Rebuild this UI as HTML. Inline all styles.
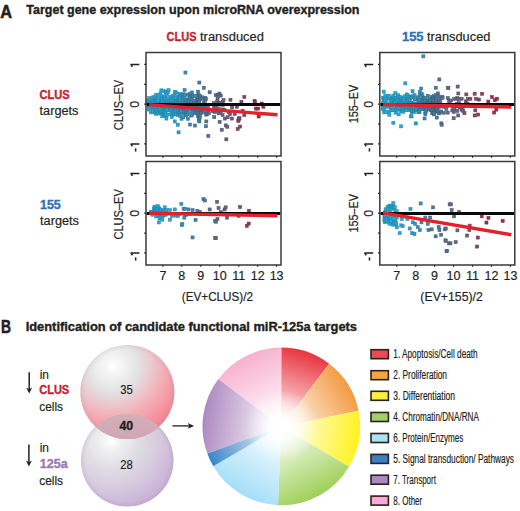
<!DOCTYPE html>
<html><head><meta charset="utf-8"><style>
html,body{margin:0;padding:0;background:#fff;width:520px;height:511px;overflow:hidden}
text{font-family:"Liberation Sans", sans-serif}
</style></head><body>
<svg width="520" height="511" viewBox="0 0 520 511" style="display:block;font-family:'Liberation Sans', sans-serif">
<rect width="520" height="511" fill="#fff"/>
<text x="0.30" y="17.60" font-size="17.5" fill="#231f20" font-weight="bold" stroke="#231f20" stroke-width="0.35" textLength="11.80" lengthAdjust="spacingAndGlyphs" style="stroke-width:0.55">A</text>
<text x="26.30" y="13.80" font-size="12" fill="#231f20" font-weight="bold" stroke="#231f20" stroke-width="0.35" textLength="333.20" lengthAdjust="spacingAndGlyphs">Target gene expression upon microRNA overexpression</text>
<text x="166.50" y="40.80" font-size="13" fill="#c81e32" font-weight="bold" stroke="#c81e32" stroke-width="0.35" textLength="30.00" lengthAdjust="spacingAndGlyphs">CLUS</text>
<text x="200.00" y="40.80" font-size="12.5" fill="#231f20" stroke="#231f20" stroke-width="0.18" textLength="63.90" lengthAdjust="spacingAndGlyphs">transduced</text>
<text x="402.00" y="40.80" font-size="13" fill="#2b72b8" font-weight="bold" stroke="#2b72b8" stroke-width="0.35" textLength="21.50" lengthAdjust="spacingAndGlyphs">155</text>
<text x="427.00" y="40.80" font-size="12.5" fill="#231f20" stroke="#231f20" stroke-width="0.18" textLength="63.40" lengthAdjust="spacingAndGlyphs">transduced</text>
<text x="39.50" y="98.80" font-size="12" fill="#c81e32" font-weight="bold" stroke="#c81e32" stroke-width="0.35" textLength="30.20" lengthAdjust="spacingAndGlyphs">CLUS</text>
<text x="39.50" y="115.00" font-size="12.5" fill="#231f20" stroke="#231f20" stroke-width="0.18" textLength="39.00" lengthAdjust="spacingAndGlyphs">targets</text>
<text x="40.00" y="208.90" font-size="12" fill="#2b72b8" font-weight="bold" stroke="#2b72b8" stroke-width="0.35" textLength="20.80" lengthAdjust="spacingAndGlyphs">155</text>
<text x="40.00" y="225.00" font-size="12.5" fill="#231f20" stroke="#231f20" stroke-width="0.18" textLength="39.00" lengthAdjust="spacingAndGlyphs">targets</text>
<rect x="146.7" y="101.9" width="3.1" height="3.1" fill="#28acd8" stroke="#2089ac" stroke-width="0.5"/>
<rect x="146.8" y="99.9" width="3.1" height="3.1" fill="#28acd8" stroke="#2089ac" stroke-width="0.5"/>
<rect x="146.9" y="99.2" width="3.1" height="3.1" fill="#28acd8" stroke="#2089ac" stroke-width="0.5"/>
<rect x="147.0" y="108.0" width="3.1" height="3.1" fill="#28acd8" stroke="#2089ac" stroke-width="0.5"/>
<rect x="147.1" y="98.5" width="3.1" height="3.1" fill="#28acd8" stroke="#2089ac" stroke-width="0.5"/>
<rect x="147.2" y="103.9" width="3.1" height="3.1" fill="#28acd8" stroke="#2089ac" stroke-width="0.5"/>
<rect x="147.5" y="103.3" width="3.1" height="3.1" fill="#28acd8" stroke="#2089ac" stroke-width="0.5"/>
<rect x="147.6" y="105.8" width="3.1" height="3.1" fill="#28acd8" stroke="#2089ac" stroke-width="0.5"/>
<rect x="147.7" y="96.6" width="3.1" height="3.1" fill="#28acd8" stroke="#2089ac" stroke-width="0.5"/>
<rect x="147.8" y="104.3" width="3.1" height="3.1" fill="#28acd8" stroke="#2089ac" stroke-width="0.5"/>
<rect x="147.9" y="103.6" width="3.1" height="3.1" fill="#28acd8" stroke="#2089ac" stroke-width="0.5"/>
<rect x="147.9" y="98.3" width="3.1" height="3.1" fill="#28acd8" stroke="#2089ac" stroke-width="0.5"/>
<rect x="148.1" y="103.8" width="3.1" height="3.1" fill="#28abd7" stroke="#2088ac" stroke-width="0.5"/>
<rect x="148.2" y="101.4" width="3.1" height="3.1" fill="#28abd7" stroke="#2088ac" stroke-width="0.5"/>
<rect x="148.4" y="98.9" width="3.1" height="3.1" fill="#28abd7" stroke="#2088ac" stroke-width="0.5"/>
<rect x="148.7" y="102.9" width="3.1" height="3.1" fill="#28abd7" stroke="#2088ac" stroke-width="0.5"/>
<rect x="148.8" y="105.5" width="3.1" height="3.1" fill="#28abd7" stroke="#2088ac" stroke-width="0.5"/>
<rect x="149.0" y="106.6" width="3.1" height="3.1" fill="#28abd7" stroke="#2088ac" stroke-width="0.5"/>
<rect x="149.3" y="110.8" width="3.1" height="3.1" fill="#28abd7" stroke="#2088ac" stroke-width="0.5"/>
<rect x="149.4" y="100.4" width="3.1" height="3.1" fill="#28abd7" stroke="#2088ac" stroke-width="0.5"/>
<rect x="149.5" y="102.8" width="3.1" height="3.1" fill="#28abd7" stroke="#2088ac" stroke-width="0.5"/>
<rect x="149.6" y="101.6" width="3.1" height="3.1" fill="#28abd7" stroke="#2088ac" stroke-width="0.5"/>
<rect x="149.8" y="100.8" width="3.1" height="3.1" fill="#28abd7" stroke="#2088ac" stroke-width="0.5"/>
<rect x="149.8" y="103.4" width="3.1" height="3.1" fill="#28abd7" stroke="#2088ac" stroke-width="0.5"/>
<rect x="149.8" y="103.6" width="3.1" height="3.1" fill="#28abd7" stroke="#2088ac" stroke-width="0.5"/>
<rect x="149.8" y="104.2" width="3.1" height="3.1" fill="#28abd7" stroke="#2088ac" stroke-width="0.5"/>
<rect x="150.1" y="101.1" width="3.1" height="3.1" fill="#28abd7" stroke="#2088ac" stroke-width="0.5"/>
<rect x="150.1" y="102.5" width="3.1" height="3.1" fill="#28abd7" stroke="#2088ac" stroke-width="0.5"/>
<rect x="150.2" y="102.5" width="3.1" height="3.1" fill="#28abd7" stroke="#2088ac" stroke-width="0.5"/>
<rect x="150.3" y="106.1" width="3.1" height="3.1" fill="#28abd7" stroke="#2088ac" stroke-width="0.5"/>
<rect x="150.4" y="101.0" width="3.1" height="3.1" fill="#28abd7" stroke="#2088ac" stroke-width="0.5"/>
<rect x="150.5" y="104.3" width="3.1" height="3.1" fill="#28abd7" stroke="#2088ac" stroke-width="0.5"/>
<rect x="150.6" y="98.8" width="3.1" height="3.1" fill="#28abd7" stroke="#2088ac" stroke-width="0.5"/>
<rect x="150.7" y="102.3" width="3.1" height="3.1" fill="#28abd7" stroke="#2088ac" stroke-width="0.5"/>
<rect x="150.8" y="104.5" width="3.1" height="3.1" fill="#28abd7" stroke="#2088ac" stroke-width="0.5"/>
<rect x="151.0" y="97.3" width="3.1" height="3.1" fill="#28abd7" stroke="#2088ac" stroke-width="0.5"/>
<rect x="151.1" y="95.9" width="3.1" height="3.1" fill="#28abd7" stroke="#2088ac" stroke-width="0.5"/>
<rect x="151.1" y="104.8" width="3.1" height="3.1" fill="#28abd7" stroke="#2088ac" stroke-width="0.5"/>
<rect x="151.2" y="103.2" width="3.1" height="3.1" fill="#28abd7" stroke="#2088ac" stroke-width="0.5"/>
<rect x="151.2" y="108.9" width="3.1" height="3.1" fill="#28aad7" stroke="#2088ac" stroke-width="0.5"/>
<rect x="151.5" y="108.2" width="3.1" height="3.1" fill="#28aad7" stroke="#2088ac" stroke-width="0.5"/>
<rect x="151.6" y="110.7" width="3.1" height="3.1" fill="#28aad7" stroke="#2088ac" stroke-width="0.5"/>
<rect x="151.9" y="100.1" width="3.1" height="3.1" fill="#28aad7" stroke="#2088ac" stroke-width="0.5"/>
<rect x="152.0" y="99.2" width="3.1" height="3.1" fill="#28aad7" stroke="#2088ac" stroke-width="0.5"/>
<rect x="152.0" y="110.0" width="3.1" height="3.1" fill="#28aad7" stroke="#2088ac" stroke-width="0.5"/>
<rect x="152.1" y="102.0" width="3.1" height="3.1" fill="#28aad7" stroke="#2088ac" stroke-width="0.5"/>
<rect x="152.3" y="100.6" width="3.1" height="3.1" fill="#28aad6" stroke="#2088ab" stroke-width="0.5"/>
<rect x="152.6" y="104.2" width="3.1" height="3.1" fill="#28aad6" stroke="#2088ab" stroke-width="0.5"/>
<rect x="152.8" y="95.2" width="3.1" height="3.1" fill="#28aad6" stroke="#2088ab" stroke-width="0.5"/>
<rect x="153.0" y="105.6" width="3.1" height="3.1" fill="#28aad6" stroke="#2088ab" stroke-width="0.5"/>
<rect x="153.0" y="105.4" width="3.1" height="3.1" fill="#28aad6" stroke="#2088ab" stroke-width="0.5"/>
<rect x="153.4" y="107.2" width="3.1" height="3.1" fill="#28aad6" stroke="#2088ab" stroke-width="0.5"/>
<rect x="153.5" y="101.0" width="3.1" height="3.1" fill="#28aad6" stroke="#2088ab" stroke-width="0.5"/>
<rect x="153.5" y="100.8" width="3.1" height="3.1" fill="#28aad6" stroke="#2088ab" stroke-width="0.5"/>
<rect x="153.5" y="104.8" width="3.1" height="3.1" fill="#28aad6" stroke="#2088ab" stroke-width="0.5"/>
<rect x="153.5" y="103.5" width="3.1" height="3.1" fill="#28aad6" stroke="#2088ab" stroke-width="0.5"/>
<rect x="153.6" y="97.1" width="3.1" height="3.1" fill="#28aad6" stroke="#2088ab" stroke-width="0.5"/>
<rect x="153.6" y="96.9" width="3.1" height="3.1" fill="#28aad6" stroke="#2088ab" stroke-width="0.5"/>
<rect x="153.6" y="104.6" width="3.1" height="3.1" fill="#28aad6" stroke="#2088ab" stroke-width="0.5"/>
<rect x="153.6" y="104.8" width="3.1" height="3.1" fill="#28aad6" stroke="#2088ab" stroke-width="0.5"/>
<rect x="153.7" y="103.2" width="3.1" height="3.1" fill="#28aad6" stroke="#2088ab" stroke-width="0.5"/>
<rect x="153.9" y="111.5" width="3.1" height="3.1" fill="#28aad6" stroke="#2088ab" stroke-width="0.5"/>
<rect x="154.0" y="105.3" width="3.1" height="3.1" fill="#28aad6" stroke="#2088ab" stroke-width="0.5"/>
<rect x="154.0" y="110.8" width="3.1" height="3.1" fill="#28aad6" stroke="#2088ab" stroke-width="0.5"/>
<rect x="154.1" y="102.5" width="3.1" height="3.1" fill="#28aad6" stroke="#2088ab" stroke-width="0.5"/>
<rect x="154.3" y="110.8" width="3.1" height="3.1" fill="#29a9d6" stroke="#2087ab" stroke-width="0.5"/>
<rect x="154.3" y="108.4" width="3.1" height="3.1" fill="#29a9d6" stroke="#2087ab" stroke-width="0.5"/>
<rect x="154.3" y="112.2" width="3.1" height="3.1" fill="#29a9d6" stroke="#2087ab" stroke-width="0.5"/>
<rect x="154.4" y="98.5" width="3.1" height="3.1" fill="#29a9d6" stroke="#2087ab" stroke-width="0.5"/>
<rect x="154.4" y="93.5" width="3.1" height="3.1" fill="#29a9d6" stroke="#2087ab" stroke-width="0.5"/>
<rect x="154.5" y="110.5" width="3.1" height="3.1" fill="#29a9d6" stroke="#2087ab" stroke-width="0.5"/>
<rect x="154.6" y="99.3" width="3.1" height="3.1" fill="#29a9d6" stroke="#2087ab" stroke-width="0.5"/>
<rect x="154.7" y="102.6" width="3.1" height="3.1" fill="#29a9d6" stroke="#2087ab" stroke-width="0.5"/>
<rect x="154.8" y="102.8" width="3.1" height="3.1" fill="#29a9d6" stroke="#2087ab" stroke-width="0.5"/>
<rect x="154.9" y="99.6" width="3.1" height="3.1" fill="#29a9d6" stroke="#2087ab" stroke-width="0.5"/>
<rect x="154.9" y="100.2" width="3.1" height="3.1" fill="#29a9d6" stroke="#2087ab" stroke-width="0.5"/>
<rect x="155.0" y="101.5" width="3.1" height="3.1" fill="#29a9d6" stroke="#2087ab" stroke-width="0.5"/>
<rect x="155.2" y="104.3" width="3.1" height="3.1" fill="#29a9d6" stroke="#2087ab" stroke-width="0.5"/>
<rect x="155.3" y="108.5" width="3.1" height="3.1" fill="#29a9d6" stroke="#2087ab" stroke-width="0.5"/>
<rect x="155.4" y="109.9" width="3.1" height="3.1" fill="#29a9d6" stroke="#2087ab" stroke-width="0.5"/>
<rect x="155.6" y="105.6" width="3.1" height="3.1" fill="#29a9d6" stroke="#2087ab" stroke-width="0.5"/>
<rect x="155.7" y="99.6" width="3.1" height="3.1" fill="#29a9d6" stroke="#2087ab" stroke-width="0.5"/>
<rect x="155.7" y="97.7" width="3.1" height="3.1" fill="#29a9d6" stroke="#2087ab" stroke-width="0.5"/>
<rect x="155.8" y="102.9" width="3.1" height="3.1" fill="#29a9d6" stroke="#2087ab" stroke-width="0.5"/>
<rect x="156.2" y="93.4" width="3.1" height="3.1" fill="#29a9d6" stroke="#2087ab" stroke-width="0.5"/>
<rect x="156.2" y="102.4" width="3.1" height="3.1" fill="#29a9d6" stroke="#2087ab" stroke-width="0.5"/>
<rect x="156.2" y="100.7" width="3.1" height="3.1" fill="#29a9d6" stroke="#2087ab" stroke-width="0.5"/>
<rect x="156.3" y="107.2" width="3.1" height="3.1" fill="#29a9d6" stroke="#2087ab" stroke-width="0.5"/>
<rect x="156.6" y="103.2" width="3.1" height="3.1" fill="#29a9d5" stroke="#2087aa" stroke-width="0.5"/>
<rect x="156.7" y="111.3" width="3.1" height="3.1" fill="#29a9d5" stroke="#2087aa" stroke-width="0.5"/>
<rect x="156.7" y="98.4" width="3.1" height="3.1" fill="#29a9d5" stroke="#2087aa" stroke-width="0.5"/>
<rect x="156.8" y="102.5" width="3.1" height="3.1" fill="#29a9d5" stroke="#2087aa" stroke-width="0.5"/>
<rect x="157.2" y="104.8" width="3.1" height="3.1" fill="#29a9d5" stroke="#2087aa" stroke-width="0.5"/>
<rect x="157.3" y="110.0" width="3.1" height="3.1" fill="#29a9d5" stroke="#2087aa" stroke-width="0.5"/>
<rect x="157.3" y="96.4" width="3.1" height="3.1" fill="#29a9d5" stroke="#2087aa" stroke-width="0.5"/>
<rect x="157.5" y="112.0" width="3.1" height="3.1" fill="#29a8d5" stroke="#2086aa" stroke-width="0.5"/>
<rect x="157.5" y="106.5" width="3.1" height="3.1" fill="#29a8d5" stroke="#2086aa" stroke-width="0.5"/>
<rect x="158.0" y="102.6" width="3.1" height="3.1" fill="#29a8d5" stroke="#2086aa" stroke-width="0.5"/>
<rect x="158.0" y="105.9" width="3.1" height="3.1" fill="#29a8d5" stroke="#2086aa" stroke-width="0.5"/>
<rect x="158.0" y="103.7" width="3.1" height="3.1" fill="#29a8d5" stroke="#2086aa" stroke-width="0.5"/>
<rect x="158.2" y="107.4" width="3.1" height="3.1" fill="#29a8d5" stroke="#2086aa" stroke-width="0.5"/>
<rect x="158.2" y="105.7" width="3.1" height="3.1" fill="#29a8d5" stroke="#2086aa" stroke-width="0.5"/>
<rect x="158.4" y="107.6" width="3.1" height="3.1" fill="#29a8d5" stroke="#2086aa" stroke-width="0.5"/>
<rect x="158.4" y="104.5" width="3.1" height="3.1" fill="#29a8d5" stroke="#2086aa" stroke-width="0.5"/>
<rect x="158.5" y="110.1" width="3.1" height="3.1" fill="#29a8d5" stroke="#2086aa" stroke-width="0.5"/>
<rect x="158.9" y="92.0" width="3.1" height="3.1" fill="#29a8d5" stroke="#2086aa" stroke-width="0.5"/>
<rect x="158.9" y="101.3" width="3.1" height="3.1" fill="#29a8d5" stroke="#2086aa" stroke-width="0.5"/>
<rect x="159.2" y="111.0" width="3.1" height="3.1" fill="#29a8d5" stroke="#2086aa" stroke-width="0.5"/>
<rect x="159.2" y="103.4" width="3.1" height="3.1" fill="#29a8d5" stroke="#2086aa" stroke-width="0.5"/>
<rect x="159.3" y="98.8" width="3.1" height="3.1" fill="#29a8d5" stroke="#2086aa" stroke-width="0.5"/>
<rect x="159.3" y="105.1" width="3.1" height="3.1" fill="#29a8d5" stroke="#2086aa" stroke-width="0.5"/>
<rect x="159.4" y="101.2" width="3.1" height="3.1" fill="#29a8d5" stroke="#2086aa" stroke-width="0.5"/>
<rect x="159.6" y="99.4" width="3.1" height="3.1" fill="#29a8d5" stroke="#2086aa" stroke-width="0.5"/>
<rect x="159.8" y="100.5" width="3.1" height="3.1" fill="#29a8d5" stroke="#2086aa" stroke-width="0.5"/>
<rect x="159.8" y="88.8" width="3.1" height="3.1" fill="#29a8d5" stroke="#2086aa" stroke-width="0.5"/>
<rect x="159.9" y="94.8" width="3.1" height="3.1" fill="#29a8d5" stroke="#2086aa" stroke-width="0.5"/>
<rect x="160.0" y="111.2" width="3.1" height="3.1" fill="#29a8d5" stroke="#2086aa" stroke-width="0.5"/>
<rect x="160.0" y="101.2" width="3.1" height="3.1" fill="#29a8d5" stroke="#2086aa" stroke-width="0.5"/>
<rect x="160.2" y="110.3" width="3.1" height="3.1" fill="#29a8d5" stroke="#2086aa" stroke-width="0.5"/>
<rect x="160.3" y="103.5" width="3.1" height="3.1" fill="#29a8d5" stroke="#2086aa" stroke-width="0.5"/>
<rect x="160.4" y="101.6" width="3.1" height="3.1" fill="#29a8d5" stroke="#2086aa" stroke-width="0.5"/>
<rect x="160.5" y="99.0" width="3.1" height="3.1" fill="#2aa7d4" stroke="#2185a9" stroke-width="0.5"/>
<rect x="160.7" y="114.7" width="3.1" height="3.1" fill="#2aa7d4" stroke="#2185a9" stroke-width="0.5"/>
<rect x="160.7" y="96.9" width="3.1" height="3.1" fill="#2aa7d4" stroke="#2185a9" stroke-width="0.5"/>
<rect x="160.8" y="105.1" width="3.1" height="3.1" fill="#2aa7d4" stroke="#2185a9" stroke-width="0.5"/>
<rect x="160.8" y="98.8" width="3.1" height="3.1" fill="#2aa7d4" stroke="#2185a9" stroke-width="0.5"/>
<rect x="161.0" y="104.5" width="3.1" height="3.1" fill="#2aa7d4" stroke="#2185a9" stroke-width="0.5"/>
<rect x="161.0" y="105.6" width="3.1" height="3.1" fill="#2aa7d4" stroke="#2185a9" stroke-width="0.5"/>
<rect x="161.1" y="108.3" width="3.1" height="3.1" fill="#2aa7d4" stroke="#2185a9" stroke-width="0.5"/>
<rect x="161.1" y="100.3" width="3.1" height="3.1" fill="#2aa7d4" stroke="#2185a9" stroke-width="0.5"/>
<rect x="161.7" y="104.2" width="3.1" height="3.1" fill="#2aa7d4" stroke="#2185a9" stroke-width="0.5"/>
<rect x="161.8" y="112.6" width="3.1" height="3.1" fill="#2aa7d4" stroke="#2185a9" stroke-width="0.5"/>
<rect x="162.0" y="89.6" width="3.1" height="3.1" fill="#2aa7d4" stroke="#2185a9" stroke-width="0.5"/>
<rect x="162.0" y="110.6" width="3.1" height="3.1" fill="#2aa7d4" stroke="#2185a9" stroke-width="0.5"/>
<rect x="162.3" y="99.4" width="3.1" height="3.1" fill="#2aa7d4" stroke="#2185a9" stroke-width="0.5"/>
<rect x="162.3" y="105.8" width="3.1" height="3.1" fill="#2aa7d4" stroke="#2185a9" stroke-width="0.5"/>
<rect x="162.4" y="107.8" width="3.1" height="3.1" fill="#2aa7d4" stroke="#2185a9" stroke-width="0.5"/>
<rect x="162.4" y="112.1" width="3.1" height="3.1" fill="#2aa7d4" stroke="#2185a9" stroke-width="0.5"/>
<rect x="162.5" y="105.1" width="3.1" height="3.1" fill="#2aa7d4" stroke="#2185a9" stroke-width="0.5"/>
<rect x="162.7" y="113.1" width="3.1" height="3.1" fill="#2aa7d4" stroke="#2185a9" stroke-width="0.5"/>
<rect x="162.7" y="96.4" width="3.1" height="3.1" fill="#2aa7d4" stroke="#2185a9" stroke-width="0.5"/>
<rect x="162.8" y="114.3" width="3.1" height="3.1" fill="#2aa7d4" stroke="#2185a9" stroke-width="0.5"/>
<rect x="162.9" y="107.3" width="3.1" height="3.1" fill="#2aa7d4" stroke="#2185a9" stroke-width="0.5"/>
<rect x="162.9" y="95.4" width="3.1" height="3.1" fill="#2aa7d4" stroke="#2185a9" stroke-width="0.5"/>
<rect x="163.0" y="106.7" width="3.1" height="3.1" fill="#2aa7d4" stroke="#2185a9" stroke-width="0.5"/>
<rect x="163.2" y="94.8" width="3.1" height="3.1" fill="#2aa7d4" stroke="#2185a9" stroke-width="0.5"/>
<rect x="163.4" y="103.8" width="3.1" height="3.1" fill="#2aa7d4" stroke="#2185a9" stroke-width="0.5"/>
<rect x="163.7" y="97.9" width="3.1" height="3.1" fill="#2aa6d4" stroke="#2184a9" stroke-width="0.5"/>
<rect x="163.7" y="106.6" width="3.1" height="3.1" fill="#2aa6d4" stroke="#2184a9" stroke-width="0.5"/>
<rect x="163.8" y="106.6" width="3.1" height="3.1" fill="#2aa6d4" stroke="#2184a9" stroke-width="0.5"/>
<rect x="163.8" y="113.7" width="3.1" height="3.1" fill="#2aa6d4" stroke="#2184a9" stroke-width="0.5"/>
<rect x="163.9" y="109.0" width="3.1" height="3.1" fill="#2aa6d4" stroke="#2184a9" stroke-width="0.5"/>
<rect x="163.9" y="111.0" width="3.1" height="3.1" fill="#2aa6d4" stroke="#2184a9" stroke-width="0.5"/>
<rect x="163.9" y="104.2" width="3.1" height="3.1" fill="#2aa6d4" stroke="#2184a9" stroke-width="0.5"/>
<rect x="164.2" y="108.8" width="3.1" height="3.1" fill="#2aa6d4" stroke="#2184a9" stroke-width="0.5"/>
<rect x="164.3" y="104.3" width="3.1" height="3.1" fill="#2aa6d4" stroke="#2184a9" stroke-width="0.5"/>
<rect x="164.3" y="90.0" width="3.1" height="3.1" fill="#2aa6d4" stroke="#2184a9" stroke-width="0.5"/>
<rect x="164.6" y="104.1" width="3.1" height="3.1" fill="#2aa6d3" stroke="#2184a8" stroke-width="0.5"/>
<rect x="164.6" y="90.8" width="3.1" height="3.1" fill="#2aa6d3" stroke="#2184a8" stroke-width="0.5"/>
<rect x="164.6" y="101.7" width="3.1" height="3.1" fill="#2aa6d3" stroke="#2184a8" stroke-width="0.5"/>
<rect x="164.7" y="102.7" width="3.1" height="3.1" fill="#2aa6d3" stroke="#2184a8" stroke-width="0.5"/>
<rect x="164.7" y="113.2" width="3.1" height="3.1" fill="#2aa6d3" stroke="#2184a8" stroke-width="0.5"/>
<rect x="164.8" y="102.3" width="3.1" height="3.1" fill="#2aa6d3" stroke="#2184a8" stroke-width="0.5"/>
<rect x="164.8" y="107.4" width="3.1" height="3.1" fill="#2aa6d3" stroke="#2184a8" stroke-width="0.5"/>
<rect x="164.9" y="105.0" width="3.1" height="3.1" fill="#2aa6d3" stroke="#2184a8" stroke-width="0.5"/>
<rect x="164.9" y="117.0" width="3.1" height="3.1" fill="#2aa6d3" stroke="#2184a8" stroke-width="0.5"/>
<rect x="165.0" y="97.9" width="3.1" height="3.1" fill="#2aa6d3" stroke="#2184a8" stroke-width="0.5"/>
<rect x="165.1" y="105.9" width="3.1" height="3.1" fill="#2aa6d3" stroke="#2184a8" stroke-width="0.5"/>
<rect x="165.1" y="97.6" width="3.1" height="3.1" fill="#2aa6d3" stroke="#2184a8" stroke-width="0.5"/>
<rect x="165.1" y="100.7" width="3.1" height="3.1" fill="#2aa6d3" stroke="#2184a8" stroke-width="0.5"/>
<rect x="165.1" y="93.4" width="3.1" height="3.1" fill="#2aa6d3" stroke="#2184a8" stroke-width="0.5"/>
<rect x="165.4" y="103.0" width="3.1" height="3.1" fill="#2aa6d3" stroke="#2184a8" stroke-width="0.5"/>
<rect x="165.5" y="108.5" width="3.1" height="3.1" fill="#2aa6d3" stroke="#2184a8" stroke-width="0.5"/>
<rect x="165.5" y="102.1" width="3.1" height="3.1" fill="#2aa6d3" stroke="#2184a8" stroke-width="0.5"/>
<rect x="165.6" y="103.5" width="3.1" height="3.1" fill="#2aa6d3" stroke="#2184a8" stroke-width="0.5"/>
<rect x="166.1" y="103.7" width="3.1" height="3.1" fill="#2aa6d3" stroke="#2184a8" stroke-width="0.5"/>
<rect x="166.5" y="90.9" width="3.1" height="3.1" fill="#2aa6d3" stroke="#2184a8" stroke-width="0.5"/>
<rect x="166.5" y="113.0" width="3.1" height="3.1" fill="#2aa6d3" stroke="#2184a8" stroke-width="0.5"/>
<rect x="166.8" y="102.3" width="3.1" height="3.1" fill="#2ba5d3" stroke="#2284a8" stroke-width="0.5"/>
<rect x="167.0" y="88.7" width="3.1" height="3.1" fill="#2ba5d3" stroke="#2284a8" stroke-width="0.5"/>
<rect x="167.0" y="103.8" width="3.1" height="3.1" fill="#2ba5d3" stroke="#2284a8" stroke-width="0.5"/>
<rect x="167.1" y="99.3" width="3.1" height="3.1" fill="#2ba5d3" stroke="#2284a8" stroke-width="0.5"/>
<rect x="167.4" y="103.3" width="3.1" height="3.1" fill="#2ba5d3" stroke="#2284a8" stroke-width="0.5"/>
<rect x="167.5" y="100.0" width="3.1" height="3.1" fill="#2ba5d3" stroke="#2284a8" stroke-width="0.5"/>
<rect x="168.1" y="99.3" width="3.1" height="3.1" fill="#2ba5d3" stroke="#2284a8" stroke-width="0.5"/>
<rect x="168.3" y="103.2" width="3.1" height="3.1" fill="#2ba5d3" stroke="#2284a8" stroke-width="0.5"/>
<rect x="168.3" y="105.3" width="3.1" height="3.1" fill="#2ba5d3" stroke="#2284a8" stroke-width="0.5"/>
<rect x="168.4" y="103.9" width="3.1" height="3.1" fill="#2ba5d3" stroke="#2284a8" stroke-width="0.5"/>
<rect x="168.4" y="107.5" width="3.1" height="3.1" fill="#2ba5d3" stroke="#2284a8" stroke-width="0.5"/>
<rect x="168.4" y="108.5" width="3.1" height="3.1" fill="#2ba5d3" stroke="#2284a8" stroke-width="0.5"/>
<rect x="168.7" y="95.5" width="3.1" height="3.1" fill="#2ba5d2" stroke="#2284a8" stroke-width="0.5"/>
<rect x="168.7" y="102.6" width="3.1" height="3.1" fill="#2ba5d2" stroke="#2284a8" stroke-width="0.5"/>
<rect x="168.7" y="106.5" width="3.1" height="3.1" fill="#2ba5d2" stroke="#2284a8" stroke-width="0.5"/>
<rect x="168.8" y="103.6" width="3.1" height="3.1" fill="#2ba5d2" stroke="#2284a8" stroke-width="0.5"/>
<rect x="168.8" y="107.2" width="3.1" height="3.1" fill="#2ba5d2" stroke="#2284a8" stroke-width="0.5"/>
<rect x="168.9" y="102.4" width="3.1" height="3.1" fill="#2ba5d2" stroke="#2284a8" stroke-width="0.5"/>
<rect x="168.9" y="108.1" width="3.1" height="3.1" fill="#2ba5d2" stroke="#2284a8" stroke-width="0.5"/>
<rect x="168.9" y="108.3" width="3.1" height="3.1" fill="#2ba5d2" stroke="#2284a8" stroke-width="0.5"/>
<rect x="169.1" y="107.1" width="3.1" height="3.1" fill="#2ba5d2" stroke="#2284a8" stroke-width="0.5"/>
<rect x="169.2" y="100.4" width="3.1" height="3.1" fill="#2ba5d2" stroke="#2284a8" stroke-width="0.5"/>
<rect x="169.3" y="103.5" width="3.1" height="3.1" fill="#2ba5d2" stroke="#2284a8" stroke-width="0.5"/>
<rect x="169.4" y="95.8" width="3.1" height="3.1" fill="#2ba5d2" stroke="#2284a8" stroke-width="0.5"/>
<rect x="169.5" y="108.3" width="3.1" height="3.1" fill="#2ba5d2" stroke="#2284a8" stroke-width="0.5"/>
<rect x="169.7" y="104.1" width="3.1" height="3.1" fill="#2ba4d2" stroke="#2283a8" stroke-width="0.5"/>
<rect x="169.7" y="99.1" width="3.1" height="3.1" fill="#2ba4d2" stroke="#2283a8" stroke-width="0.5"/>
<rect x="169.8" y="111.8" width="3.1" height="3.1" fill="#2ba4d2" stroke="#2283a8" stroke-width="0.5"/>
<rect x="170.0" y="99.0" width="3.1" height="3.1" fill="#2ba4d2" stroke="#2283a8" stroke-width="0.5"/>
<rect x="170.3" y="115.4" width="3.1" height="3.1" fill="#2ba4d2" stroke="#2283a8" stroke-width="0.5"/>
<rect x="170.6" y="103.7" width="3.1" height="3.1" fill="#2ba4d2" stroke="#2283a8" stroke-width="0.5"/>
<rect x="170.7" y="102.4" width="3.1" height="3.1" fill="#2ba4d2" stroke="#2283a8" stroke-width="0.5"/>
<rect x="170.9" y="104.8" width="3.1" height="3.1" fill="#2ba4d2" stroke="#2283a8" stroke-width="0.5"/>
<rect x="171.1" y="101.2" width="3.1" height="3.1" fill="#2ba4d2" stroke="#2283a8" stroke-width="0.5"/>
<rect x="171.1" y="94.3" width="3.1" height="3.1" fill="#2ba4d2" stroke="#2283a8" stroke-width="0.5"/>
<rect x="171.2" y="102.4" width="3.1" height="3.1" fill="#2ba4d2" stroke="#2283a8" stroke-width="0.5"/>
<rect x="171.2" y="110.7" width="3.1" height="3.1" fill="#2ba4d2" stroke="#2283a8" stroke-width="0.5"/>
<rect x="171.4" y="106.0" width="3.1" height="3.1" fill="#2ba4d2" stroke="#2283a8" stroke-width="0.5"/>
<rect x="171.5" y="112.6" width="3.1" height="3.1" fill="#2ba4d2" stroke="#2283a8" stroke-width="0.5"/>
<rect x="171.7" y="102.3" width="3.1" height="3.1" fill="#2ba4d2" stroke="#2283a8" stroke-width="0.5"/>
<rect x="172.0" y="97.0" width="3.1" height="3.1" fill="#2ba4d2" stroke="#2283a8" stroke-width="0.5"/>
<rect x="172.1" y="97.7" width="3.1" height="3.1" fill="#2ba4d2" stroke="#2283a8" stroke-width="0.5"/>
<rect x="172.2" y="107.4" width="3.1" height="3.1" fill="#2ba4d2" stroke="#2283a8" stroke-width="0.5"/>
<rect x="172.4" y="109.6" width="3.1" height="3.1" fill="#2ba4d2" stroke="#2283a8" stroke-width="0.5"/>
<rect x="172.5" y="112.9" width="3.1" height="3.1" fill="#2ba4d2" stroke="#2283a8" stroke-width="0.5"/>
<rect x="172.6" y="106.7" width="3.1" height="3.1" fill="#2ba4d2" stroke="#2283a8" stroke-width="0.5"/>
<rect x="172.9" y="93.4" width="3.1" height="3.1" fill="#2ca3d1" stroke="#2382a7" stroke-width="0.5"/>
<rect x="173.0" y="111.2" width="3.1" height="3.1" fill="#2ca3d1" stroke="#2382a7" stroke-width="0.5"/>
<rect x="173.2" y="119.9" width="3.1" height="3.1" fill="#2ca2d0" stroke="#2381a6" stroke-width="0.5"/>
<rect x="173.4" y="90.2" width="3.1" height="3.1" fill="#2ca2d0" stroke="#2381a6" stroke-width="0.5"/>
<rect x="173.5" y="109.5" width="3.1" height="3.1" fill="#2ca2d0" stroke="#2381a6" stroke-width="0.5"/>
<rect x="173.7" y="106.0" width="3.1" height="3.1" fill="#2da2cf" stroke="#2481a5" stroke-width="0.5"/>
<rect x="173.7" y="106.4" width="3.1" height="3.1" fill="#2da2cf" stroke="#2481a5" stroke-width="0.5"/>
<rect x="173.8" y="96.8" width="3.1" height="3.1" fill="#2da1cf" stroke="#2480a5" stroke-width="0.5"/>
<rect x="173.9" y="99.4" width="3.1" height="3.1" fill="#2da1cf" stroke="#2480a5" stroke-width="0.5"/>
<rect x="174.0" y="101.8" width="3.1" height="3.1" fill="#2da1ce" stroke="#2480a4" stroke-width="0.5"/>
<rect x="174.1" y="103.0" width="3.1" height="3.1" fill="#2da1ce" stroke="#2480a4" stroke-width="0.5"/>
<rect x="174.1" y="108.4" width="3.1" height="3.1" fill="#2da1ce" stroke="#2480a4" stroke-width="0.5"/>
<rect x="174.4" y="110.4" width="3.1" height="3.1" fill="#2da0ce" stroke="#2480a4" stroke-width="0.5"/>
<rect x="174.4" y="100.9" width="3.1" height="3.1" fill="#2ea0cd" stroke="#2480a4" stroke-width="0.5"/>
<rect x="174.4" y="112.8" width="3.1" height="3.1" fill="#2ea0cd" stroke="#2480a4" stroke-width="0.5"/>
<rect x="174.7" y="91.1" width="3.1" height="3.1" fill="#2ea0cd" stroke="#2480a4" stroke-width="0.5"/>
<rect x="174.8" y="99.9" width="3.1" height="3.1" fill="#2ea0cd" stroke="#2480a4" stroke-width="0.5"/>
<rect x="174.8" y="99.4" width="3.1" height="3.1" fill="#2e9fcc" stroke="#247fa3" stroke-width="0.5"/>
<rect x="175.0" y="99.3" width="3.1" height="3.1" fill="#2e9fcc" stroke="#247fa3" stroke-width="0.5"/>
<rect x="175.8" y="105.1" width="3.1" height="3.1" fill="#2f9eca" stroke="#257ea1" stroke-width="0.5"/>
<rect x="175.8" y="105.9" width="3.1" height="3.1" fill="#2f9dca" stroke="#257da1" stroke-width="0.5"/>
<rect x="175.9" y="100.6" width="3.1" height="3.1" fill="#2f9dca" stroke="#257da1" stroke-width="0.5"/>
<rect x="176.0" y="105.9" width="3.1" height="3.1" fill="#2f9dca" stroke="#257da1" stroke-width="0.5"/>
<rect x="176.1" y="95.2" width="3.1" height="3.1" fill="#309dc9" stroke="#267da0" stroke-width="0.5"/>
<rect x="176.1" y="109.0" width="3.1" height="3.1" fill="#309dc9" stroke="#267da0" stroke-width="0.5"/>
<rect x="176.2" y="103.4" width="3.1" height="3.1" fill="#309dc9" stroke="#267da0" stroke-width="0.5"/>
<rect x="176.2" y="123.2" width="3.1" height="3.1" fill="#309dc9" stroke="#267da0" stroke-width="0.5"/>
<rect x="176.3" y="113.6" width="3.1" height="3.1" fill="#309cc9" stroke="#267ca0" stroke-width="0.5"/>
<rect x="176.8" y="101.6" width="3.1" height="3.1" fill="#309cc8" stroke="#267ca0" stroke-width="0.5"/>
<rect x="177.0" y="109.9" width="3.1" height="3.1" fill="#319bc7" stroke="#277c9f" stroke-width="0.5"/>
<rect x="177.0" y="100.4" width="3.1" height="3.1" fill="#319bc7" stroke="#277c9f" stroke-width="0.5"/>
<rect x="177.0" y="130.8" width="3.1" height="3.1" fill="#319bc7" stroke="#277c9f" stroke-width="0.5"/>
<rect x="177.4" y="100.0" width="3.1" height="3.1" fill="#319ac6" stroke="#277b9e" stroke-width="0.5"/>
<rect x="177.5" y="96.4" width="3.1" height="3.1" fill="#319ac6" stroke="#277b9e" stroke-width="0.5"/>
<rect x="177.9" y="110.7" width="3.1" height="3.1" fill="#3299c5" stroke="#287a9d" stroke-width="0.5"/>
<rect x="178.0" y="92.5" width="3.1" height="3.1" fill="#3299c5" stroke="#287a9d" stroke-width="0.5"/>
<rect x="178.2" y="96.1" width="3.1" height="3.1" fill="#3299c4" stroke="#287a9c" stroke-width="0.5"/>
<rect x="178.2" y="104.4" width="3.1" height="3.1" fill="#3299c4" stroke="#287a9c" stroke-width="0.5"/>
<rect x="178.4" y="102.4" width="3.1" height="3.1" fill="#3298c4" stroke="#28799c" stroke-width="0.5"/>
<rect x="178.4" y="104.1" width="3.1" height="3.1" fill="#3298c4" stroke="#28799c" stroke-width="0.5"/>
<rect x="178.6" y="114.2" width="3.1" height="3.1" fill="#3398c3" stroke="#28799c" stroke-width="0.5"/>
<rect x="178.7" y="100.7" width="3.1" height="3.1" fill="#3398c3" stroke="#28799c" stroke-width="0.5"/>
<rect x="178.7" y="104.3" width="3.1" height="3.1" fill="#3398c3" stroke="#28799c" stroke-width="0.5"/>
<rect x="179.1" y="111.0" width="3.1" height="3.1" fill="#3397c2" stroke="#28789b" stroke-width="0.5"/>
<rect x="179.6" y="102.1" width="3.1" height="3.1" fill="#3496c1" stroke="#29789a" stroke-width="0.5"/>
<rect x="179.7" y="106.6" width="3.1" height="3.1" fill="#3496c1" stroke="#29789a" stroke-width="0.5"/>
<rect x="179.7" y="110.6" width="3.1" height="3.1" fill="#3496c1" stroke="#29789a" stroke-width="0.5"/>
<rect x="179.8" y="93.6" width="3.1" height="3.1" fill="#3496c0" stroke="#297899" stroke-width="0.5"/>
<rect x="179.8" y="107.7" width="3.1" height="3.1" fill="#3496c0" stroke="#297899" stroke-width="0.5"/>
<rect x="179.9" y="109.4" width="3.1" height="3.1" fill="#3495c0" stroke="#297799" stroke-width="0.5"/>
<rect x="180.0" y="117.2" width="3.1" height="3.1" fill="#3495c0" stroke="#297799" stroke-width="0.5"/>
<rect x="181.0" y="96.3" width="3.1" height="3.1" fill="#3693bd" stroke="#2b7597" stroke-width="0.5"/>
<rect x="181.1" y="106.2" width="3.1" height="3.1" fill="#3693bd" stroke="#2b7597" stroke-width="0.5"/>
<rect x="181.2" y="94.1" width="3.1" height="3.1" fill="#3693bd" stroke="#2b7597" stroke-width="0.5"/>
<rect x="181.5" y="101.3" width="3.1" height="3.1" fill="#3692bc" stroke="#2b7496" stroke-width="0.5"/>
<rect x="181.6" y="100.5" width="3.1" height="3.1" fill="#3692bc" stroke="#2b7496" stroke-width="0.5"/>
<rect x="181.7" y="92.6" width="3.1" height="3.1" fill="#3692bc" stroke="#2b7496" stroke-width="0.5"/>
<rect x="181.7" y="96.9" width="3.1" height="3.1" fill="#3692bc" stroke="#2b7496" stroke-width="0.5"/>
<rect x="181.8" y="115.7" width="3.1" height="3.1" fill="#3792bb" stroke="#2c7495" stroke-width="0.5"/>
<rect x="182.0" y="105.1" width="3.1" height="3.1" fill="#3791bb" stroke="#2c7495" stroke-width="0.5"/>
<rect x="182.1" y="95.3" width="3.1" height="3.1" fill="#3791bb" stroke="#2c7495" stroke-width="0.5"/>
<rect x="182.4" y="106.4" width="3.1" height="3.1" fill="#3791ba" stroke="#2c7494" stroke-width="0.5"/>
<rect x="182.4" y="111.2" width="3.1" height="3.1" fill="#3791ba" stroke="#2c7494" stroke-width="0.5"/>
<rect x="182.5" y="107.2" width="3.1" height="3.1" fill="#3790ba" stroke="#2c7394" stroke-width="0.5"/>
<rect x="183.0" y="101.0" width="3.1" height="3.1" fill="#388fb9" stroke="#2c7294" stroke-width="0.5"/>
<rect x="183.0" y="88.5" width="3.1" height="3.1" fill="#388fb9" stroke="#2c7294" stroke-width="0.5"/>
<rect x="183.0" y="101.6" width="3.1" height="3.1" fill="#388fb9" stroke="#2c7294" stroke-width="0.5"/>
<rect x="183.1" y="112.4" width="3.1" height="3.1" fill="#388fb8" stroke="#2c7293" stroke-width="0.5"/>
<rect x="183.3" y="99.3" width="3.1" height="3.1" fill="#388fb8" stroke="#2c7293" stroke-width="0.5"/>
<rect x="183.4" y="106.7" width="3.1" height="3.1" fill="#388fb8" stroke="#2c7293" stroke-width="0.5"/>
<rect x="183.5" y="107.3" width="3.1" height="3.1" fill="#388eb8" stroke="#2c7193" stroke-width="0.5"/>
<rect x="183.6" y="93.3" width="3.1" height="3.1" fill="#398eb7" stroke="#2d7192" stroke-width="0.5"/>
<rect x="183.9" y="101.6" width="3.1" height="3.1" fill="#398eb7" stroke="#2d7192" stroke-width="0.5"/>
<rect x="183.9" y="71.0" width="3.1" height="3.1" fill="#398db6" stroke="#2d7091" stroke-width="0.5"/>
<rect x="184.1" y="109.5" width="3.1" height="3.1" fill="#398db6" stroke="#2d7091" stroke-width="0.5"/>
<rect x="184.6" y="112.3" width="3.1" height="3.1" fill="#3a8cb5" stroke="#2e7090" stroke-width="0.5"/>
<rect x="184.6" y="108.0" width="3.1" height="3.1" fill="#3a8cb5" stroke="#2e7090" stroke-width="0.5"/>
<rect x="184.6" y="103.2" width="3.1" height="3.1" fill="#3a8cb5" stroke="#2e7090" stroke-width="0.5"/>
<rect x="184.6" y="97.8" width="3.1" height="3.1" fill="#3a8cb5" stroke="#2e7090" stroke-width="0.5"/>
<rect x="184.9" y="112.0" width="3.1" height="3.1" fill="#3a8cb4" stroke="#2e7090" stroke-width="0.5"/>
<rect x="184.9" y="113.7" width="3.1" height="3.1" fill="#3a8cb4" stroke="#2e7090" stroke-width="0.5"/>
<rect x="185.0" y="99.7" width="3.1" height="3.1" fill="#3a8bb4" stroke="#2e6f90" stroke-width="0.5"/>
<rect x="185.1" y="102.8" width="3.1" height="3.1" fill="#3a8bb4" stroke="#2e6f90" stroke-width="0.5"/>
<rect x="185.7" y="107.8" width="3.1" height="3.1" fill="#3b8ab2" stroke="#2f6e8e" stroke-width="0.5"/>
<rect x="185.8" y="112.7" width="3.1" height="3.1" fill="#3b8ab2" stroke="#2f6e8e" stroke-width="0.5"/>
<rect x="186.1" y="98.5" width="3.1" height="3.1" fill="#3c89b1" stroke="#306d8d" stroke-width="0.5"/>
<rect x="186.4" y="117.3" width="3.1" height="3.1" fill="#3c89b1" stroke="#306d8d" stroke-width="0.5"/>
<rect x="186.5" y="104.7" width="3.1" height="3.1" fill="#3c89b1" stroke="#306d8d" stroke-width="0.5"/>
<rect x="186.7" y="110.4" width="3.1" height="3.1" fill="#3c88b0" stroke="#306c8c" stroke-width="0.5"/>
<rect x="186.7" y="93.0" width="3.1" height="3.1" fill="#3c88b0" stroke="#306c8c" stroke-width="0.5"/>
<rect x="186.9" y="100.8" width="3.1" height="3.1" fill="#3d88b0" stroke="#306c8c" stroke-width="0.5"/>
<rect x="187.2" y="99.7" width="3.1" height="3.1" fill="#3d88af" stroke="#306c8c" stroke-width="0.5"/>
<rect x="187.3" y="100.4" width="3.1" height="3.1" fill="#3d88af" stroke="#306c8c" stroke-width="0.5"/>
<rect x="187.9" y="94.9" width="3.1" height="3.1" fill="#3e87ae" stroke="#316c8b" stroke-width="0.5"/>
<rect x="188.5" y="96.1" width="3.1" height="3.1" fill="#3f86ad" stroke="#326b8a" stroke-width="0.5"/>
<rect x="188.5" y="123.0" width="3.1" height="3.1" fill="#3f86ad" stroke="#326b8a" stroke-width="0.5"/>
<rect x="188.7" y="102.9" width="3.1" height="3.1" fill="#3f86ad" stroke="#326b8a" stroke-width="0.5"/>
<rect x="188.7" y="92.3" width="3.1" height="3.1" fill="#3f86ad" stroke="#326b8a" stroke-width="0.5"/>
<rect x="188.9" y="106.2" width="3.1" height="3.1" fill="#3f86ac" stroke="#326b89" stroke-width="0.5"/>
<rect x="189.0" y="104.0" width="3.1" height="3.1" fill="#3f85ac" stroke="#326a89" stroke-width="0.5"/>
<rect x="189.3" y="103.0" width="3.1" height="3.1" fill="#4085ab" stroke="#336a88" stroke-width="0.5"/>
<rect x="189.3" y="103.4" width="3.1" height="3.1" fill="#4085ab" stroke="#336a88" stroke-width="0.5"/>
<rect x="189.4" y="104.6" width="3.1" height="3.1" fill="#4085ab" stroke="#336a88" stroke-width="0.5"/>
<rect x="189.5" y="100.2" width="3.1" height="3.1" fill="#4085ab" stroke="#336a88" stroke-width="0.5"/>
<rect x="189.7" y="114.0" width="3.1" height="3.1" fill="#4084ab" stroke="#336988" stroke-width="0.5"/>
<rect x="190.0" y="100.1" width="3.1" height="3.1" fill="#4084aa" stroke="#336988" stroke-width="0.5"/>
<rect x="190.3" y="97.1" width="3.1" height="3.1" fill="#4184aa" stroke="#346988" stroke-width="0.5"/>
<rect x="190.3" y="109.9" width="3.1" height="3.1" fill="#4184aa" stroke="#346988" stroke-width="0.5"/>
<rect x="190.4" y="90.9" width="3.1" height="3.1" fill="#4184aa" stroke="#346988" stroke-width="0.5"/>
<rect x="190.6" y="113.3" width="3.1" height="3.1" fill="#4183a9" stroke="#346887" stroke-width="0.5"/>
<rect x="190.6" y="94.1" width="3.1" height="3.1" fill="#4183a9" stroke="#346887" stroke-width="0.5"/>
<rect x="190.9" y="104.9" width="3.1" height="3.1" fill="#4183a9" stroke="#346887" stroke-width="0.5"/>
<rect x="191.0" y="106.3" width="3.1" height="3.1" fill="#4283a8" stroke="#346886" stroke-width="0.5"/>
<rect x="191.3" y="107.8" width="3.1" height="3.1" fill="#4282a8" stroke="#346886" stroke-width="0.5"/>
<rect x="191.3" y="94.8" width="3.1" height="3.1" fill="#4282a8" stroke="#346886" stroke-width="0.5"/>
<rect x="191.8" y="107.3" width="3.1" height="3.1" fill="#4382a7" stroke="#356885" stroke-width="0.5"/>
<rect x="192.3" y="101.7" width="3.1" height="3.1" fill="#4381a6" stroke="#356784" stroke-width="0.5"/>
<rect x="192.3" y="101.9" width="3.1" height="3.1" fill="#4381a6" stroke="#356784" stroke-width="0.5"/>
<rect x="192.8" y="104.5" width="3.1" height="3.1" fill="#4480a5" stroke="#366684" stroke-width="0.5"/>
<rect x="193.2" y="107.6" width="3.1" height="3.1" fill="#4480a4" stroke="#366683" stroke-width="0.5"/>
<rect x="193.2" y="111.4" width="3.1" height="3.1" fill="#4480a4" stroke="#366683" stroke-width="0.5"/>
<rect x="193.2" y="99.1" width="3.1" height="3.1" fill="#4480a4" stroke="#366683" stroke-width="0.5"/>
<rect x="193.4" y="124.0" width="3.1" height="3.1" fill="#457fa4" stroke="#376583" stroke-width="0.5"/>
<rect x="193.8" y="94.3" width="3.1" height="3.1" fill="#457fa3" stroke="#376582" stroke-width="0.5"/>
<rect x="194.0" y="111.5" width="3.1" height="3.1" fill="#457fa3" stroke="#376582" stroke-width="0.5"/>
<rect x="194.1" y="105.5" width="3.1" height="3.1" fill="#457ea3" stroke="#376482" stroke-width="0.5"/>
<rect x="194.2" y="106.9" width="3.1" height="3.1" fill="#457ea3" stroke="#376482" stroke-width="0.5"/>
<rect x="194.4" y="105.0" width="3.1" height="3.1" fill="#467ea2" stroke="#386481" stroke-width="0.5"/>
<rect x="194.8" y="104.4" width="3.1" height="3.1" fill="#467ea2" stroke="#386481" stroke-width="0.5"/>
<rect x="195.1" y="100.5" width="3.1" height="3.1" fill="#477da1" stroke="#386480" stroke-width="0.5"/>
<rect x="195.2" y="109.9" width="3.1" height="3.1" fill="#477da1" stroke="#386480" stroke-width="0.5"/>
<rect x="195.2" y="108.2" width="3.1" height="3.1" fill="#477da1" stroke="#386480" stroke-width="0.5"/>
<rect x="195.2" y="103.5" width="3.1" height="3.1" fill="#477da1" stroke="#386480" stroke-width="0.5"/>
<rect x="195.5" y="97.5" width="3.1" height="3.1" fill="#477da0" stroke="#386480" stroke-width="0.5"/>
<rect x="195.6" y="99.2" width="3.1" height="3.1" fill="#477da0" stroke="#386480" stroke-width="0.5"/>
<rect x="195.8" y="101.9" width="3.1" height="3.1" fill="#477ca0" stroke="#386380" stroke-width="0.5"/>
<rect x="195.8" y="102.0" width="3.1" height="3.1" fill="#477ca0" stroke="#386380" stroke-width="0.5"/>
<rect x="196.3" y="98.4" width="3.1" height="3.1" fill="#487c9f" stroke="#39637f" stroke-width="0.5"/>
<rect x="196.3" y="102.6" width="3.1" height="3.1" fill="#487b9f" stroke="#39627f" stroke-width="0.5"/>
<rect x="196.4" y="110.5" width="3.1" height="3.1" fill="#487b9f" stroke="#39627f" stroke-width="0.5"/>
<rect x="196.4" y="100.7" width="3.1" height="3.1" fill="#487b9f" stroke="#39627f" stroke-width="0.5"/>
<rect x="196.4" y="114.5" width="3.1" height="3.1" fill="#487b9f" stroke="#39627f" stroke-width="0.5"/>
<rect x="196.5" y="90.1" width="3.1" height="3.1" fill="#487b9e" stroke="#39627e" stroke-width="0.5"/>
<rect x="196.7" y="102.0" width="3.1" height="3.1" fill="#487b9e" stroke="#39627e" stroke-width="0.5"/>
<rect x="196.7" y="105.0" width="3.1" height="3.1" fill="#487b9e" stroke="#39627e" stroke-width="0.5"/>
<rect x="196.9" y="102.1" width="3.1" height="3.1" fill="#497b9e" stroke="#3a627e" stroke-width="0.5"/>
<rect x="197.0" y="93.3" width="3.1" height="3.1" fill="#497b9e" stroke="#3a627e" stroke-width="0.5"/>
<rect x="197.1" y="99.2" width="3.1" height="3.1" fill="#497a9d" stroke="#3a617d" stroke-width="0.5"/>
<rect x="197.1" y="115.4" width="3.1" height="3.1" fill="#497a9d" stroke="#3a617d" stroke-width="0.5"/>
<rect x="197.1" y="99.1" width="3.1" height="3.1" fill="#497a9d" stroke="#3a617d" stroke-width="0.5"/>
<rect x="197.2" y="99.5" width="3.1" height="3.1" fill="#497a9d" stroke="#3a617d" stroke-width="0.5"/>
<rect x="197.2" y="118.4" width="3.1" height="3.1" fill="#497a9d" stroke="#3a617d" stroke-width="0.5"/>
<rect x="197.2" y="99.2" width="3.1" height="3.1" fill="#497a9d" stroke="#3a617d" stroke-width="0.5"/>
<rect x="197.3" y="104.1" width="3.1" height="3.1" fill="#497a9d" stroke="#3a617d" stroke-width="0.5"/>
<rect x="197.3" y="94.7" width="3.1" height="3.1" fill="#497a9d" stroke="#3a617d" stroke-width="0.5"/>
<rect x="197.5" y="104.5" width="3.1" height="3.1" fill="#497a9d" stroke="#3a617d" stroke-width="0.5"/>
<rect x="197.5" y="104.7" width="3.1" height="3.1" fill="#497a9d" stroke="#3a617d" stroke-width="0.5"/>
<rect x="197.7" y="103.1" width="3.1" height="3.1" fill="#4a7a9c" stroke="#3b617c" stroke-width="0.5"/>
<rect x="197.8" y="109.1" width="3.1" height="3.1" fill="#4a7a9c" stroke="#3b617c" stroke-width="0.5"/>
<rect x="197.8" y="114.3" width="3.1" height="3.1" fill="#4a7a9c" stroke="#3b617c" stroke-width="0.5"/>
<rect x="197.8" y="103.3" width="3.1" height="3.1" fill="#4a799c" stroke="#3b607c" stroke-width="0.5"/>
<rect x="197.8" y="81.0" width="3.1" height="3.1" fill="#4a799c" stroke="#3b607c" stroke-width="0.5"/>
<rect x="197.8" y="119.9" width="3.1" height="3.1" fill="#4a799c" stroke="#3b607c" stroke-width="0.5"/>
<rect x="197.9" y="100.1" width="3.1" height="3.1" fill="#4a799c" stroke="#3b607c" stroke-width="0.5"/>
<rect x="197.9" y="108.0" width="3.1" height="3.1" fill="#4a799c" stroke="#3b607c" stroke-width="0.5"/>
<rect x="198.1" y="111.6" width="3.1" height="3.1" fill="#4a799c" stroke="#3b607c" stroke-width="0.5"/>
<rect x="198.2" y="113.6" width="3.1" height="3.1" fill="#4a799b" stroke="#3b607c" stroke-width="0.5"/>
<rect x="198.3" y="116.3" width="3.1" height="3.1" fill="#4a799b" stroke="#3b607c" stroke-width="0.5"/>
<rect x="198.3" y="104.6" width="3.1" height="3.1" fill="#4a799b" stroke="#3b607c" stroke-width="0.5"/>
<rect x="198.6" y="94.7" width="3.1" height="3.1" fill="#4b789b" stroke="#3c607c" stroke-width="0.5"/>
<rect x="199.1" y="97.1" width="3.1" height="3.1" fill="#4b789a" stroke="#3c607b" stroke-width="0.5"/>
<rect x="199.8" y="111.3" width="3.1" height="3.1" fill="#4c7799" stroke="#3c5f7a" stroke-width="0.5"/>
<rect x="200.6" y="108.1" width="3.1" height="3.1" fill="#4d7698" stroke="#3d5e79" stroke-width="0.5"/>
<rect x="200.7" y="95.8" width="3.1" height="3.1" fill="#4d7698" stroke="#3d5e79" stroke-width="0.5"/>
<rect x="200.8" y="105.0" width="3.1" height="3.1" fill="#4d7698" stroke="#3d5e79" stroke-width="0.5"/>
<rect x="201.5" y="104.6" width="3.1" height="3.1" fill="#4e7597" stroke="#3e5d78" stroke-width="0.5"/>
<rect x="201.6" y="97.1" width="3.1" height="3.1" fill="#4e7597" stroke="#3e5d78" stroke-width="0.5"/>
<rect x="201.8" y="109.6" width="3.1" height="3.1" fill="#4e7597" stroke="#3e5d78" stroke-width="0.5"/>
<rect x="202.1" y="110.5" width="3.1" height="3.1" fill="#4f7596" stroke="#3f5d78" stroke-width="0.5"/>
<rect x="202.2" y="86.2" width="3.1" height="3.1" fill="#4f7596" stroke="#3f5d78" stroke-width="0.5"/>
<rect x="202.4" y="101.4" width="3.1" height="3.1" fill="#4f7596" stroke="#3f5d78" stroke-width="0.5"/>
<rect x="203.4" y="104.9" width="3.1" height="3.1" fill="#507495" stroke="#405c77" stroke-width="0.5"/>
<rect x="203.5" y="97.6" width="3.1" height="3.1" fill="#507495" stroke="#405c77" stroke-width="0.5"/>
<rect x="203.6" y="99.3" width="3.1" height="3.1" fill="#507495" stroke="#405c77" stroke-width="0.5"/>
<rect x="203.7" y="96.2" width="3.1" height="3.1" fill="#507495" stroke="#405c77" stroke-width="0.5"/>
<rect x="204.4" y="124.7" width="3.1" height="3.1" fill="#517394" stroke="#405c76" stroke-width="0.5"/>
<rect x="204.6" y="97.5" width="3.1" height="3.1" fill="#517394" stroke="#405c76" stroke-width="0.5"/>
<rect x="204.7" y="113.0" width="3.1" height="3.1" fill="#517394" stroke="#405c76" stroke-width="0.5"/>
<rect x="204.8" y="119.9" width="3.1" height="3.1" fill="#517394" stroke="#405c76" stroke-width="0.5"/>
<rect x="205.0" y="104.9" width="3.1" height="3.1" fill="#527293" stroke="#415b75" stroke-width="0.5"/>
<rect x="205.2" y="112.7" width="3.1" height="3.1" fill="#527293" stroke="#415b75" stroke-width="0.5"/>
<rect x="205.5" y="109.2" width="3.1" height="3.1" fill="#527293" stroke="#415b75" stroke-width="0.5"/>
<rect x="206.3" y="105.0" width="3.1" height="3.1" fill="#537192" stroke="#425a74" stroke-width="0.5"/>
<rect x="206.8" y="134.4" width="3.1" height="3.1" fill="#537192" stroke="#425a74" stroke-width="0.5"/>
<rect x="206.9" y="110.2" width="3.1" height="3.1" fill="#547191" stroke="#435a74" stroke-width="0.5"/>
<rect x="207.3" y="111.8" width="3.1" height="3.1" fill="#547091" stroke="#435974" stroke-width="0.5"/>
<rect x="208.1" y="90.7" width="3.1" height="3.1" fill="#556f90" stroke="#445873" stroke-width="0.5"/>
<rect x="211.3" y="109.5" width="3.1" height="3.1" fill="#586d8d" stroke="#465770" stroke-width="0.5"/>
<rect x="212.2" y="101.6" width="3.1" height="3.1" fill="#596c8c" stroke="#475670" stroke-width="0.5"/>
<rect x="212.7" y="106.5" width="3.1" height="3.1" fill="#5a6b8b" stroke="#48556f" stroke-width="0.5"/>
<rect x="212.7" y="115.6" width="3.1" height="3.1" fill="#5a6b8b" stroke="#48556f" stroke-width="0.5"/>
<rect x="212.9" y="109.7" width="3.1" height="3.1" fill="#5a6b8b" stroke="#48556f" stroke-width="0.5"/>
<rect x="212.9" y="110.4" width="3.1" height="3.1" fill="#5a6b8b" stroke="#48556f" stroke-width="0.5"/>
<rect x="213.1" y="105.5" width="3.1" height="3.1" fill="#5a6b8b" stroke="#48556f" stroke-width="0.5"/>
<rect x="213.6" y="106.5" width="3.1" height="3.1" fill="#5b6b8a" stroke="#48556e" stroke-width="0.5"/>
<rect x="214.2" y="93.6" width="3.1" height="3.1" fill="#5c6a8a" stroke="#49546e" stroke-width="0.5"/>
<rect x="214.6" y="106.2" width="3.1" height="3.1" fill="#5c6a89" stroke="#49546d" stroke-width="0.5"/>
<rect x="214.9" y="102.7" width="3.1" height="3.1" fill="#5c6989" stroke="#49546d" stroke-width="0.5"/>
<rect x="215.5" y="100.2" width="3.1" height="3.1" fill="#5d6988" stroke="#4a546c" stroke-width="0.5"/>
<rect x="215.9" y="110.0" width="3.1" height="3.1" fill="#5e6888" stroke="#4b536c" stroke-width="0.5"/>
<rect x="216.0" y="97.5" width="3.1" height="3.1" fill="#5e6888" stroke="#4b536c" stroke-width="0.5"/>
<rect x="216.6" y="93.6" width="3.1" height="3.1" fill="#5e6887" stroke="#4b536c" stroke-width="0.5"/>
<rect x="216.6" y="94.6" width="3.1" height="3.1" fill="#5e6887" stroke="#4b536c" stroke-width="0.5"/>
<rect x="216.9" y="109.7" width="3.1" height="3.1" fill="#5f6887" stroke="#4c536c" stroke-width="0.5"/>
<rect x="217.3" y="111.8" width="3.1" height="3.1" fill="#5f6786" stroke="#4c526b" stroke-width="0.5"/>
<rect x="217.4" y="107.5" width="3.1" height="3.1" fill="#5f6786" stroke="#4c526b" stroke-width="0.5"/>
<rect x="217.5" y="101.2" width="3.1" height="3.1" fill="#606786" stroke="#4c526b" stroke-width="0.5"/>
<rect x="217.9" y="92.0" width="3.1" height="3.1" fill="#606786" stroke="#4c526b" stroke-width="0.5"/>
<rect x="218.0" y="103.1" width="3.1" height="3.1" fill="#606786" stroke="#4c526b" stroke-width="0.5"/>
<rect x="218.1" y="120.4" width="3.1" height="3.1" fill="#606686" stroke="#4c516b" stroke-width="0.5"/>
<rect x="218.6" y="101.2" width="3.1" height="3.1" fill="#616685" stroke="#4d516a" stroke-width="0.5"/>
<rect x="219.2" y="94.0" width="3.1" height="3.1" fill="#626584" stroke="#4e5069" stroke-width="0.5"/>
<rect x="219.3" y="110.3" width="3.1" height="3.1" fill="#626584" stroke="#4e5069" stroke-width="0.5"/>
<rect x="220.2" y="128.2" width="3.1" height="3.1" fill="#636583" stroke="#4f5068" stroke-width="0.5"/>
<rect x="221.0" y="113.4" width="3.1" height="3.1" fill="#646483" stroke="#505068" stroke-width="0.5"/>
<rect x="221.3" y="100.4" width="3.1" height="3.1" fill="#646482" stroke="#505068" stroke-width="0.5"/>
<rect x="221.3" y="107.9" width="3.1" height="3.1" fill="#646482" stroke="#505068" stroke-width="0.5"/>
<rect x="221.5" y="103.2" width="3.1" height="3.1" fill="#646382" stroke="#504f68" stroke-width="0.5"/>
<rect x="222.0" y="98.4" width="3.1" height="3.1" fill="#656381" stroke="#504f67" stroke-width="0.5"/>
<rect x="222.8" y="108.5" width="3.1" height="3.1" fill="#666281" stroke="#514e67" stroke-width="0.5"/>
<rect x="223.4" y="117.0" width="3.1" height="3.1" fill="#676280" stroke="#524e66" stroke-width="0.5"/>
<rect x="224.3" y="123.9" width="3.1" height="3.1" fill="#68617f" stroke="#534d65" stroke-width="0.5"/>
<rect x="224.8" y="137.8" width="3.1" height="3.1" fill="#68607f" stroke="#534c65" stroke-width="0.5"/>
<rect x="225.8" y="125.2" width="3.1" height="3.1" fill="#69607e" stroke="#544c64" stroke-width="0.5"/>
<rect x="226.1" y="115.7" width="3.1" height="3.1" fill="#6a5f7d" stroke="#544c64" stroke-width="0.5"/>
<rect x="227.1" y="110.4" width="3.1" height="3.1" fill="#6c5d7b" stroke="#564a62" stroke-width="0.5"/>
<rect x="228.5" y="112.5" width="3.1" height="3.1" fill="#6e5a78" stroke="#584860" stroke-width="0.5"/>
<rect x="228.9" y="98.2" width="3.1" height="3.1" fill="#6f5a78" stroke="#584860" stroke-width="0.5"/>
<rect x="230.3" y="117.0" width="3.1" height="3.1" fill="#715775" stroke="#5a455d" stroke-width="0.5"/>
<rect x="230.6" y="105.9" width="3.1" height="3.1" fill="#725775" stroke="#5b455d" stroke-width="0.5"/>
<rect x="233.1" y="112.5" width="3.1" height="3.1" fill="#765270" stroke="#5e4159" stroke-width="0.5"/>
<rect x="235.4" y="105.2" width="3.1" height="3.1" fill="#7a4e6c" stroke="#613e56" stroke-width="0.5"/>
<rect x="236.1" y="127.4" width="3.1" height="3.1" fill="#7b4d6b" stroke="#623d55" stroke-width="0.5"/>
<rect x="236.8" y="119.5" width="3.1" height="3.1" fill="#7c4b69" stroke="#633c54" stroke-width="0.5"/>
<rect x="237.1" y="118.0" width="3.1" height="3.1" fill="#7c4b69" stroke="#633c54" stroke-width="0.5"/>
<rect x="237.2" y="117.0" width="3.1" height="3.1" fill="#7d4b69" stroke="#643c54" stroke-width="0.5"/>
<rect x="237.9" y="116.7" width="3.1" height="3.1" fill="#7e4967" stroke="#643a52" stroke-width="0.5"/>
<rect x="238.6" y="125.0" width="3.1" height="3.1" fill="#7f4866" stroke="#653951" stroke-width="0.5"/>
<rect x="239.9" y="100.2" width="3.1" height="3.1" fill="#814664" stroke="#673850" stroke-width="0.5"/>
<rect x="241.0" y="109.2" width="3.1" height="3.1" fill="#834462" stroke="#68364e" stroke-width="0.5"/>
<rect x="242.8" y="95.4" width="3.1" height="3.1" fill="#87415f" stroke="#6c344c" stroke-width="0.5"/>
<rect x="242.8" y="113.5" width="3.1" height="3.1" fill="#87415f" stroke="#6c344c" stroke-width="0.5"/>
<rect x="253.0" y="99.4" width="3.1" height="3.1" fill="#99314d" stroke="#7a273d" stroke-width="0.5"/>
<rect x="253.4" y="100.8" width="3.1" height="3.1" fill="#9a314d" stroke="#7b273d" stroke-width="0.5"/>
<rect x="254.3" y="107.0" width="3.1" height="3.1" fill="#9c2f4b" stroke="#7c253c" stroke-width="0.5"/>
<rect x="256.6" y="107.0" width="3.1" height="3.1" fill="#9e2e49" stroke="#7e243a" stroke-width="0.5"/>
<rect x="257.1" y="114.9" width="3.1" height="3.1" fill="#9f2d48" stroke="#7f2439" stroke-width="0.5"/>
<rect x="260.1" y="102.0" width="3.1" height="3.1" fill="#a32b45" stroke="#822237" stroke-width="0.5"/>
<rect x="261.8" y="105.2" width="3.1" height="3.1" fill="#a52a43" stroke="#842135" stroke-width="0.5"/>
<line x1="146.70" y1="104.50" x2="280.30" y2="104.50" stroke="#0a0a0a" stroke-width="3"/>
<line x1="149.20" y1="104.60" x2="277.50" y2="114.80" stroke="#e5202a" stroke-width="3.4"/>
<rect x="146.00" y="52.50" width="135" height="103.5" fill="none" stroke="#3a3a3a" stroke-width="1.5"/>
<line x1="144.20" y1="143.95" x2="146.00" y2="143.95" stroke="#222" stroke-width="1.2"/>
<line x1="144.20" y1="124.08" x2="146.00" y2="124.08" stroke="#222" stroke-width="1.2"/>
<line x1="144.20" y1="104.20" x2="146.00" y2="104.20" stroke="#222" stroke-width="1.2"/>
<line x1="144.20" y1="84.33" x2="146.00" y2="84.33" stroke="#222" stroke-width="1.2"/>
<line x1="144.20" y1="64.45" x2="146.00" y2="64.45" stroke="#222" stroke-width="1.2"/>
<line x1="162.90" y1="156.00" x2="162.90" y2="157.80" stroke="#222" stroke-width="1.2"/>
<line x1="181.85" y1="156.00" x2="181.85" y2="157.80" stroke="#222" stroke-width="1.2"/>
<line x1="200.80" y1="156.00" x2="200.80" y2="157.80" stroke="#222" stroke-width="1.2"/>
<line x1="219.75" y1="156.00" x2="219.75" y2="157.80" stroke="#222" stroke-width="1.2"/>
<line x1="238.70" y1="156.00" x2="238.70" y2="157.80" stroke="#222" stroke-width="1.2"/>
<line x1="257.65" y1="156.00" x2="257.65" y2="157.80" stroke="#222" stroke-width="1.2"/>
<line x1="276.60" y1="156.00" x2="276.60" y2="157.80" stroke="#222" stroke-width="1.2"/>
<path d="M130.60,64.45 L139.40,64.45 M130.80,64.25 L132.40,66.85" stroke="#231f20" stroke-width="1.45" fill="none"/>
<text x="139.40" y="104.20" font-size="12.3" fill="#231f20" stroke="#231f20" stroke-width="0.18" text-anchor="middle" transform="rotate(-90 139.40 104.20)">0</text>
<path d="M130.60,143.95 L139.40,143.95 M130.80,143.75 L132.40,146.35" stroke="#231f20" stroke-width="1.45" fill="none"/>
<rect x="134.90" y="148.35" width="1.5" height="3.2" fill="#231f20"/>
<text x="122.70" y="130.30" font-size="12.7" fill="#231f20" stroke="#231f20" stroke-width="0.18" textLength="50.50" lengthAdjust="spacingAndGlyphs" transform="rotate(-90 122.70 130.30)">CLUS–EV</text>
<rect x="381.5" y="105.6" width="3.1" height="3.1" fill="#28acd8" stroke="#2089ac" stroke-width="0.5"/>
<rect x="381.6" y="101.1" width="3.1" height="3.1" fill="#28acd8" stroke="#2089ac" stroke-width="0.5"/>
<rect x="381.7" y="96.2" width="3.1" height="3.1" fill="#28acd8" stroke="#2089ac" stroke-width="0.5"/>
<rect x="381.8" y="107.4" width="3.1" height="3.1" fill="#28acd8" stroke="#2089ac" stroke-width="0.5"/>
<rect x="381.8" y="107.9" width="3.1" height="3.1" fill="#28acd8" stroke="#2089ac" stroke-width="0.5"/>
<rect x="381.8" y="106.1" width="3.1" height="3.1" fill="#28acd8" stroke="#2089ac" stroke-width="0.5"/>
<rect x="382.1" y="98.3" width="3.1" height="3.1" fill="#28abd7" stroke="#2088ac" stroke-width="0.5"/>
<rect x="382.2" y="90.1" width="3.1" height="3.1" fill="#28abd7" stroke="#2088ac" stroke-width="0.5"/>
<rect x="382.2" y="97.6" width="3.1" height="3.1" fill="#28abd7" stroke="#2088ac" stroke-width="0.5"/>
<rect x="382.7" y="110.8" width="3.1" height="3.1" fill="#28abd7" stroke="#2088ac" stroke-width="0.5"/>
<rect x="382.8" y="98.0" width="3.1" height="3.1" fill="#28abd7" stroke="#2088ac" stroke-width="0.5"/>
<rect x="382.9" y="108.8" width="3.1" height="3.1" fill="#28abd7" stroke="#2088ac" stroke-width="0.5"/>
<rect x="383.1" y="96.2" width="3.1" height="3.1" fill="#28abd7" stroke="#2088ac" stroke-width="0.5"/>
<rect x="383.2" y="97.6" width="3.1" height="3.1" fill="#28abd7" stroke="#2088ac" stroke-width="0.5"/>
<rect x="383.5" y="104.1" width="3.1" height="3.1" fill="#28abd7" stroke="#2088ac" stroke-width="0.5"/>
<rect x="383.6" y="99.2" width="3.1" height="3.1" fill="#28abd7" stroke="#2088ac" stroke-width="0.5"/>
<rect x="383.8" y="105.1" width="3.1" height="3.1" fill="#28abd7" stroke="#2088ac" stroke-width="0.5"/>
<rect x="383.8" y="94.0" width="3.1" height="3.1" fill="#28abd7" stroke="#2088ac" stroke-width="0.5"/>
<rect x="383.8" y="103.8" width="3.1" height="3.1" fill="#28abd7" stroke="#2088ac" stroke-width="0.5"/>
<rect x="384.2" y="110.3" width="3.1" height="3.1" fill="#28abd7" stroke="#2088ac" stroke-width="0.5"/>
<rect x="384.5" y="101.8" width="3.1" height="3.1" fill="#28abd7" stroke="#2088ac" stroke-width="0.5"/>
<rect x="385.2" y="98.3" width="3.1" height="3.1" fill="#28aad7" stroke="#2088ac" stroke-width="0.5"/>
<rect x="386.1" y="104.8" width="3.1" height="3.1" fill="#28aad6" stroke="#2088ab" stroke-width="0.5"/>
<rect x="386.7" y="96.5" width="3.1" height="3.1" fill="#28aad6" stroke="#2088ab" stroke-width="0.5"/>
<rect x="387.0" y="94.2" width="3.1" height="3.1" fill="#28aad6" stroke="#2088ab" stroke-width="0.5"/>
<rect x="387.1" y="110.4" width="3.1" height="3.1" fill="#28aad6" stroke="#2088ab" stroke-width="0.5"/>
<rect x="387.2" y="96.5" width="3.1" height="3.1" fill="#28aad6" stroke="#2088ab" stroke-width="0.5"/>
<rect x="387.3" y="105.3" width="3.1" height="3.1" fill="#28aad6" stroke="#2088ab" stroke-width="0.5"/>
<rect x="387.4" y="110.6" width="3.1" height="3.1" fill="#28aad6" stroke="#2088ab" stroke-width="0.5"/>
<rect x="387.5" y="103.9" width="3.1" height="3.1" fill="#28aad6" stroke="#2088ab" stroke-width="0.5"/>
<rect x="387.8" y="113.4" width="3.1" height="3.1" fill="#28aad6" stroke="#2088ab" stroke-width="0.5"/>
<rect x="388.0" y="94.9" width="3.1" height="3.1" fill="#28aad6" stroke="#2088ab" stroke-width="0.5"/>
<rect x="388.5" y="102.9" width="3.1" height="3.1" fill="#29a9d6" stroke="#2087ab" stroke-width="0.5"/>
<rect x="388.7" y="102.0" width="3.1" height="3.1" fill="#29a9d6" stroke="#2087ab" stroke-width="0.5"/>
<rect x="389.0" y="103.9" width="3.1" height="3.1" fill="#29a9d6" stroke="#2087ab" stroke-width="0.5"/>
<rect x="389.4" y="106.8" width="3.1" height="3.1" fill="#29a9d6" stroke="#2087ab" stroke-width="0.5"/>
<rect x="389.5" y="98.2" width="3.1" height="3.1" fill="#29a9d6" stroke="#2087ab" stroke-width="0.5"/>
<rect x="389.6" y="98.6" width="3.1" height="3.1" fill="#29a9d6" stroke="#2087ab" stroke-width="0.5"/>
<rect x="389.6" y="105.3" width="3.1" height="3.1" fill="#29a9d6" stroke="#2087ab" stroke-width="0.5"/>
<rect x="389.7" y="105.0" width="3.1" height="3.1" fill="#29a9d6" stroke="#2087ab" stroke-width="0.5"/>
<rect x="389.7" y="105.4" width="3.1" height="3.1" fill="#29a9d6" stroke="#2087ab" stroke-width="0.5"/>
<rect x="390.0" y="102.8" width="3.1" height="3.1" fill="#29a9d6" stroke="#2087ab" stroke-width="0.5"/>
<rect x="390.2" y="97.7" width="3.1" height="3.1" fill="#29a9d5" stroke="#2087aa" stroke-width="0.5"/>
<rect x="390.3" y="100.1" width="3.1" height="3.1" fill="#29a9d5" stroke="#2087aa" stroke-width="0.5"/>
<rect x="390.6" y="105.4" width="3.1" height="3.1" fill="#29a9d5" stroke="#2087aa" stroke-width="0.5"/>
<rect x="390.6" y="108.8" width="3.1" height="3.1" fill="#29a9d5" stroke="#2087aa" stroke-width="0.5"/>
<rect x="390.9" y="99.4" width="3.1" height="3.1" fill="#29a9d5" stroke="#2087aa" stroke-width="0.5"/>
<rect x="391.2" y="108.4" width="3.1" height="3.1" fill="#29a8d5" stroke="#2086aa" stroke-width="0.5"/>
<rect x="391.5" y="96.7" width="3.1" height="3.1" fill="#29a8d5" stroke="#2086aa" stroke-width="0.5"/>
<rect x="391.7" y="96.7" width="3.1" height="3.1" fill="#29a8d5" stroke="#2086aa" stroke-width="0.5"/>
<rect x="391.8" y="121.2" width="3.1" height="3.1" fill="#29a8d5" stroke="#2086aa" stroke-width="0.5"/>
<rect x="391.9" y="94.1" width="3.1" height="3.1" fill="#29a8d5" stroke="#2086aa" stroke-width="0.5"/>
<rect x="391.9" y="97.3" width="3.1" height="3.1" fill="#29a8d5" stroke="#2086aa" stroke-width="0.5"/>
<rect x="392.0" y="97.6" width="3.1" height="3.1" fill="#29a8d5" stroke="#2086aa" stroke-width="0.5"/>
<rect x="392.6" y="101.0" width="3.1" height="3.1" fill="#29a8d5" stroke="#2086aa" stroke-width="0.5"/>
<rect x="392.7" y="102.6" width="3.1" height="3.1" fill="#29a8d5" stroke="#2086aa" stroke-width="0.5"/>
<rect x="392.8" y="97.6" width="3.1" height="3.1" fill="#29a8d5" stroke="#2086aa" stroke-width="0.5"/>
<rect x="393.1" y="99.0" width="3.1" height="3.1" fill="#29a8d5" stroke="#2086aa" stroke-width="0.5"/>
<rect x="393.1" y="108.2" width="3.1" height="3.1" fill="#29a8d5" stroke="#2086aa" stroke-width="0.5"/>
<rect x="393.2" y="101.8" width="3.1" height="3.1" fill="#29a8d5" stroke="#2086aa" stroke-width="0.5"/>
<rect x="393.2" y="101.8" width="3.1" height="3.1" fill="#29a8d5" stroke="#2086aa" stroke-width="0.5"/>
<rect x="393.2" y="100.7" width="3.1" height="3.1" fill="#29a8d5" stroke="#2086aa" stroke-width="0.5"/>
<rect x="393.3" y="102.2" width="3.1" height="3.1" fill="#29a8d5" stroke="#2086aa" stroke-width="0.5"/>
<rect x="393.5" y="101.1" width="3.1" height="3.1" fill="#29a8d5" stroke="#2086aa" stroke-width="0.5"/>
<rect x="393.7" y="101.2" width="3.1" height="3.1" fill="#29a8d5" stroke="#2086aa" stroke-width="0.5"/>
<rect x="393.8" y="96.1" width="3.1" height="3.1" fill="#29a8d5" stroke="#2086aa" stroke-width="0.5"/>
<rect x="393.8" y="91.5" width="3.1" height="3.1" fill="#29a8d5" stroke="#2086aa" stroke-width="0.5"/>
<rect x="393.9" y="97.3" width="3.1" height="3.1" fill="#29a8d5" stroke="#2086aa" stroke-width="0.5"/>
<rect x="394.1" y="111.1" width="3.1" height="3.1" fill="#29a8d5" stroke="#2086aa" stroke-width="0.5"/>
<rect x="394.2" y="96.3" width="3.1" height="3.1" fill="#2aa7d4" stroke="#2185a9" stroke-width="0.5"/>
<rect x="394.3" y="107.8" width="3.1" height="3.1" fill="#2aa7d4" stroke="#2185a9" stroke-width="0.5"/>
<rect x="394.7" y="107.7" width="3.1" height="3.1" fill="#2aa7d4" stroke="#2185a9" stroke-width="0.5"/>
<rect x="394.8" y="103.6" width="3.1" height="3.1" fill="#2aa7d4" stroke="#2185a9" stroke-width="0.5"/>
<rect x="394.9" y="98.3" width="3.1" height="3.1" fill="#2aa7d4" stroke="#2185a9" stroke-width="0.5"/>
<rect x="394.9" y="103.2" width="3.1" height="3.1" fill="#2aa7d4" stroke="#2185a9" stroke-width="0.5"/>
<rect x="395.3" y="104.2" width="3.1" height="3.1" fill="#2aa7d4" stroke="#2185a9" stroke-width="0.5"/>
<rect x="395.6" y="99.6" width="3.1" height="3.1" fill="#2aa7d4" stroke="#2185a9" stroke-width="0.5"/>
<rect x="395.6" y="104.1" width="3.1" height="3.1" fill="#2aa7d4" stroke="#2185a9" stroke-width="0.5"/>
<rect x="395.9" y="108.2" width="3.1" height="3.1" fill="#2aa7d4" stroke="#2185a9" stroke-width="0.5"/>
<rect x="395.9" y="105.8" width="3.1" height="3.1" fill="#2aa7d4" stroke="#2185a9" stroke-width="0.5"/>
<rect x="396.1" y="103.3" width="3.1" height="3.1" fill="#2aa7d4" stroke="#2185a9" stroke-width="0.5"/>
<rect x="396.3" y="107.0" width="3.1" height="3.1" fill="#2aa7d4" stroke="#2185a9" stroke-width="0.5"/>
<rect x="396.5" y="97.2" width="3.1" height="3.1" fill="#2aa7d4" stroke="#2185a9" stroke-width="0.5"/>
<rect x="396.6" y="93.6" width="3.1" height="3.1" fill="#2aa7d4" stroke="#2185a9" stroke-width="0.5"/>
<rect x="396.6" y="95.5" width="3.1" height="3.1" fill="#2aa7d4" stroke="#2185a9" stroke-width="0.5"/>
<rect x="396.9" y="106.5" width="3.1" height="3.1" fill="#2aa7d4" stroke="#2185a9" stroke-width="0.5"/>
<rect x="397.1" y="112.8" width="3.1" height="3.1" fill="#2aa7d4" stroke="#2185a9" stroke-width="0.5"/>
<rect x="397.5" y="102.9" width="3.1" height="3.1" fill="#2aa6d4" stroke="#2184a9" stroke-width="0.5"/>
<rect x="397.6" y="101.6" width="3.1" height="3.1" fill="#2aa6d4" stroke="#2184a9" stroke-width="0.5"/>
<rect x="397.6" y="102.7" width="3.1" height="3.1" fill="#2aa6d4" stroke="#2184a9" stroke-width="0.5"/>
<rect x="397.8" y="95.7" width="3.1" height="3.1" fill="#2aa6d4" stroke="#2184a9" stroke-width="0.5"/>
<rect x="398.1" y="99.3" width="3.1" height="3.1" fill="#2aa6d4" stroke="#2184a9" stroke-width="0.5"/>
<rect x="398.2" y="97.0" width="3.1" height="3.1" fill="#2aa6d4" stroke="#2184a9" stroke-width="0.5"/>
<rect x="398.6" y="107.0" width="3.1" height="3.1" fill="#2aa6d3" stroke="#2184a8" stroke-width="0.5"/>
<rect x="398.6" y="102.2" width="3.1" height="3.1" fill="#2aa6d3" stroke="#2184a8" stroke-width="0.5"/>
<rect x="398.6" y="106.4" width="3.1" height="3.1" fill="#2aa6d3" stroke="#2184a8" stroke-width="0.5"/>
<rect x="399.0" y="95.6" width="3.1" height="3.1" fill="#2aa6d3" stroke="#2184a8" stroke-width="0.5"/>
<rect x="399.3" y="97.9" width="3.1" height="3.1" fill="#2aa6d3" stroke="#2184a8" stroke-width="0.5"/>
<rect x="399.3" y="104.2" width="3.1" height="3.1" fill="#2aa6d3" stroke="#2184a8" stroke-width="0.5"/>
<rect x="399.6" y="124.8" width="3.1" height="3.1" fill="#2aa6d3" stroke="#2184a8" stroke-width="0.5"/>
<rect x="399.6" y="109.4" width="3.1" height="3.1" fill="#2aa6d3" stroke="#2184a8" stroke-width="0.5"/>
<rect x="399.6" y="101.7" width="3.1" height="3.1" fill="#2aa6d3" stroke="#2184a8" stroke-width="0.5"/>
<rect x="399.7" y="97.5" width="3.1" height="3.1" fill="#2aa6d3" stroke="#2184a8" stroke-width="0.5"/>
<rect x="400.1" y="99.6" width="3.1" height="3.1" fill="#2aa6d3" stroke="#2184a8" stroke-width="0.5"/>
<rect x="400.2" y="108.4" width="3.1" height="3.1" fill="#2aa6d3" stroke="#2184a8" stroke-width="0.5"/>
<rect x="400.3" y="109.4" width="3.1" height="3.1" fill="#2aa6d3" stroke="#2184a8" stroke-width="0.5"/>
<rect x="400.3" y="100.8" width="3.1" height="3.1" fill="#2aa6d3" stroke="#2184a8" stroke-width="0.5"/>
<rect x="400.8" y="106.2" width="3.1" height="3.1" fill="#2ba5d3" stroke="#2284a8" stroke-width="0.5"/>
<rect x="401.1" y="103.6" width="3.1" height="3.1" fill="#2ba5d3" stroke="#2284a8" stroke-width="0.5"/>
<rect x="401.2" y="100.8" width="3.1" height="3.1" fill="#2ba5d3" stroke="#2284a8" stroke-width="0.5"/>
<rect x="401.3" y="101.2" width="3.1" height="3.1" fill="#2ba5d3" stroke="#2284a8" stroke-width="0.5"/>
<rect x="401.4" y="97.1" width="3.1" height="3.1" fill="#2ba5d3" stroke="#2284a8" stroke-width="0.5"/>
<rect x="401.5" y="101.9" width="3.1" height="3.1" fill="#2ba5d3" stroke="#2284a8" stroke-width="0.5"/>
<rect x="401.5" y="102.4" width="3.1" height="3.1" fill="#2ba5d3" stroke="#2284a8" stroke-width="0.5"/>
<rect x="401.7" y="110.3" width="3.1" height="3.1" fill="#2ba5d3" stroke="#2284a8" stroke-width="0.5"/>
<rect x="401.7" y="107.0" width="3.1" height="3.1" fill="#2ba5d3" stroke="#2284a8" stroke-width="0.5"/>
<rect x="401.8" y="104.8" width="3.1" height="3.1" fill="#2ba5d3" stroke="#2284a8" stroke-width="0.5"/>
<rect x="402.0" y="101.2" width="3.1" height="3.1" fill="#2ba5d3" stroke="#2284a8" stroke-width="0.5"/>
<rect x="402.0" y="103.3" width="3.1" height="3.1" fill="#2ba5d3" stroke="#2284a8" stroke-width="0.5"/>
<rect x="402.1" y="96.5" width="3.1" height="3.1" fill="#2ba5d3" stroke="#2284a8" stroke-width="0.5"/>
<rect x="402.6" y="99.6" width="3.1" height="3.1" fill="#2ba5d2" stroke="#2284a8" stroke-width="0.5"/>
<rect x="403.0" y="105.0" width="3.1" height="3.1" fill="#2ba5d2" stroke="#2284a8" stroke-width="0.5"/>
<rect x="403.1" y="105.8" width="3.1" height="3.1" fill="#2ba5d2" stroke="#2284a8" stroke-width="0.5"/>
<rect x="403.3" y="106.7" width="3.1" height="3.1" fill="#2ba5d2" stroke="#2284a8" stroke-width="0.5"/>
<rect x="403.4" y="102.1" width="3.1" height="3.1" fill="#2ba5d2" stroke="#2284a8" stroke-width="0.5"/>
<rect x="403.6" y="108.3" width="3.1" height="3.1" fill="#2ba4d2" stroke="#2283a8" stroke-width="0.5"/>
<rect x="403.6" y="94.7" width="3.1" height="3.1" fill="#2ba4d2" stroke="#2283a8" stroke-width="0.5"/>
<rect x="403.8" y="103.4" width="3.1" height="3.1" fill="#2ba4d2" stroke="#2283a8" stroke-width="0.5"/>
<rect x="403.8" y="103.0" width="3.1" height="3.1" fill="#2ba4d2" stroke="#2283a8" stroke-width="0.5"/>
<rect x="403.8" y="81.8" width="3.1" height="3.1" fill="#2ba4d2" stroke="#2283a8" stroke-width="0.5"/>
<rect x="403.9" y="102.4" width="3.1" height="3.1" fill="#2ba4d2" stroke="#2283a8" stroke-width="0.5"/>
<rect x="403.9" y="107.2" width="3.1" height="3.1" fill="#2ba4d2" stroke="#2283a8" stroke-width="0.5"/>
<rect x="404.2" y="104.3" width="3.1" height="3.1" fill="#2ba4d2" stroke="#2283a8" stroke-width="0.5"/>
<rect x="404.5" y="108.7" width="3.1" height="3.1" fill="#2ba4d2" stroke="#2283a8" stroke-width="0.5"/>
<rect x="404.6" y="102.9" width="3.1" height="3.1" fill="#2ba4d2" stroke="#2283a8" stroke-width="0.5"/>
<rect x="404.8" y="101.8" width="3.1" height="3.1" fill="#2ba4d2" stroke="#2283a8" stroke-width="0.5"/>
<rect x="404.8" y="106.4" width="3.1" height="3.1" fill="#2ba4d2" stroke="#2283a8" stroke-width="0.5"/>
<rect x="405.2" y="100.6" width="3.1" height="3.1" fill="#2ba4d2" stroke="#2283a8" stroke-width="0.5"/>
<rect x="405.3" y="98.2" width="3.1" height="3.1" fill="#2ba4d2" stroke="#2283a8" stroke-width="0.5"/>
<rect x="405.5" y="104.0" width="3.1" height="3.1" fill="#2ba4d2" stroke="#2283a8" stroke-width="0.5"/>
<rect x="405.5" y="92.9" width="3.1" height="3.1" fill="#2ba4d2" stroke="#2283a8" stroke-width="0.5"/>
<rect x="405.6" y="105.2" width="3.1" height="3.1" fill="#2ba4d2" stroke="#2283a8" stroke-width="0.5"/>
<rect x="405.7" y="99.4" width="3.1" height="3.1" fill="#2ba4d2" stroke="#2283a8" stroke-width="0.5"/>
<rect x="405.7" y="102.9" width="3.1" height="3.1" fill="#2ba4d2" stroke="#2283a8" stroke-width="0.5"/>
<rect x="405.9" y="97.4" width="3.1" height="3.1" fill="#2ba4d2" stroke="#2283a8" stroke-width="0.5"/>
<rect x="406.0" y="104.6" width="3.1" height="3.1" fill="#2ba4d2" stroke="#2283a8" stroke-width="0.5"/>
<rect x="406.2" y="94.0" width="3.1" height="3.1" fill="#2ba4d2" stroke="#2283a8" stroke-width="0.5"/>
<rect x="406.3" y="98.9" width="3.1" height="3.1" fill="#2ba4d2" stroke="#2283a8" stroke-width="0.5"/>
<rect x="406.4" y="101.6" width="3.1" height="3.1" fill="#2ba4d2" stroke="#2283a8" stroke-width="0.5"/>
<rect x="406.4" y="97.6" width="3.1" height="3.1" fill="#2ba4d2" stroke="#2283a8" stroke-width="0.5"/>
<rect x="406.5" y="99.3" width="3.1" height="3.1" fill="#2ba4d2" stroke="#2283a8" stroke-width="0.5"/>
<rect x="407.4" y="108.6" width="3.1" height="3.1" fill="#2da2cf" stroke="#2481a5" stroke-width="0.5"/>
<rect x="407.7" y="103.3" width="3.1" height="3.1" fill="#2da1cf" stroke="#2480a5" stroke-width="0.5"/>
<rect x="407.7" y="100.0" width="3.1" height="3.1" fill="#2da1cf" stroke="#2480a5" stroke-width="0.5"/>
<rect x="407.8" y="101.4" width="3.1" height="3.1" fill="#2da1ce" stroke="#2480a4" stroke-width="0.5"/>
<rect x="407.9" y="102.7" width="3.1" height="3.1" fill="#2da1ce" stroke="#2480a4" stroke-width="0.5"/>
<rect x="408.0" y="95.1" width="3.1" height="3.1" fill="#2da1ce" stroke="#2480a4" stroke-width="0.5"/>
<rect x="408.2" y="107.4" width="3.1" height="3.1" fill="#2ea0cd" stroke="#2480a4" stroke-width="0.5"/>
<rect x="408.4" y="105.0" width="3.1" height="3.1" fill="#2ea0cd" stroke="#2480a4" stroke-width="0.5"/>
<rect x="408.5" y="98.7" width="3.1" height="3.1" fill="#2ea0cd" stroke="#2480a4" stroke-width="0.5"/>
<rect x="408.8" y="107.5" width="3.1" height="3.1" fill="#2e9fcc" stroke="#247fa3" stroke-width="0.5"/>
<rect x="409.1" y="102.0" width="3.1" height="3.1" fill="#2f9ecb" stroke="#257ea2" stroke-width="0.5"/>
<rect x="409.4" y="104.3" width="3.1" height="3.1" fill="#2f9ecb" stroke="#257ea2" stroke-width="0.5"/>
<rect x="409.4" y="101.5" width="3.1" height="3.1" fill="#2f9ecb" stroke="#257ea2" stroke-width="0.5"/>
<rect x="409.5" y="95.8" width="3.1" height="3.1" fill="#2f9eca" stroke="#257ea1" stroke-width="0.5"/>
<rect x="409.5" y="114.8" width="3.1" height="3.1" fill="#2f9eca" stroke="#257ea1" stroke-width="0.5"/>
<rect x="409.6" y="108.6" width="3.1" height="3.1" fill="#2f9eca" stroke="#257ea1" stroke-width="0.5"/>
<rect x="410.0" y="114.8" width="3.1" height="3.1" fill="#309dc9" stroke="#267da0" stroke-width="0.5"/>
<rect x="410.3" y="110.8" width="3.1" height="3.1" fill="#309cc8" stroke="#267ca0" stroke-width="0.5"/>
<rect x="410.6" y="109.0" width="3.1" height="3.1" fill="#309bc8" stroke="#267ca0" stroke-width="0.5"/>
<rect x="410.6" y="96.0" width="3.1" height="3.1" fill="#309bc8" stroke="#267ca0" stroke-width="0.5"/>
<rect x="411.0" y="89.7" width="3.1" height="3.1" fill="#319bc7" stroke="#277c9f" stroke-width="0.5"/>
<rect x="411.2" y="105.1" width="3.1" height="3.1" fill="#319ac6" stroke="#277b9e" stroke-width="0.5"/>
<rect x="411.2" y="94.7" width="3.1" height="3.1" fill="#319ac6" stroke="#277b9e" stroke-width="0.5"/>
<rect x="411.3" y="106.6" width="3.1" height="3.1" fill="#319ac6" stroke="#277b9e" stroke-width="0.5"/>
<rect x="411.4" y="103.2" width="3.1" height="3.1" fill="#319ac6" stroke="#277b9e" stroke-width="0.5"/>
<rect x="411.7" y="102.4" width="3.1" height="3.1" fill="#3299c5" stroke="#287a9d" stroke-width="0.5"/>
<rect x="411.7" y="101.8" width="3.1" height="3.1" fill="#3299c5" stroke="#287a9d" stroke-width="0.5"/>
<rect x="411.7" y="103.0" width="3.1" height="3.1" fill="#3299c5" stroke="#287a9d" stroke-width="0.5"/>
<rect x="412.4" y="102.5" width="3.1" height="3.1" fill="#3398c3" stroke="#28799c" stroke-width="0.5"/>
<rect x="412.7" y="110.2" width="3.1" height="3.1" fill="#3397c3" stroke="#28789c" stroke-width="0.5"/>
<rect x="412.8" y="107.9" width="3.1" height="3.1" fill="#3397c2" stroke="#28789b" stroke-width="0.5"/>
<rect x="412.8" y="106.1" width="3.1" height="3.1" fill="#3397c2" stroke="#28789b" stroke-width="0.5"/>
<rect x="412.9" y="103.6" width="3.1" height="3.1" fill="#3397c2" stroke="#28789b" stroke-width="0.5"/>
<rect x="413.0" y="93.7" width="3.1" height="3.1" fill="#3397c2" stroke="#28789b" stroke-width="0.5"/>
<rect x="413.1" y="102.4" width="3.1" height="3.1" fill="#3397c2" stroke="#28789b" stroke-width="0.5"/>
<rect x="413.5" y="98.0" width="3.1" height="3.1" fill="#3496c1" stroke="#29789a" stroke-width="0.5"/>
<rect x="413.5" y="97.5" width="3.1" height="3.1" fill="#3496c1" stroke="#29789a" stroke-width="0.5"/>
<rect x="414.2" y="121.9" width="3.1" height="3.1" fill="#3594bf" stroke="#2a7698" stroke-width="0.5"/>
<rect x="414.7" y="108.2" width="3.1" height="3.1" fill="#3594be" stroke="#2a7698" stroke-width="0.5"/>
<rect x="414.9" y="107.1" width="3.1" height="3.1" fill="#3693bd" stroke="#2b7597" stroke-width="0.5"/>
<rect x="416.1" y="104.4" width="3.1" height="3.1" fill="#3791ba" stroke="#2c7494" stroke-width="0.5"/>
<rect x="416.6" y="96.6" width="3.1" height="3.1" fill="#3890b9" stroke="#2c7394" stroke-width="0.5"/>
<rect x="416.7" y="102.5" width="3.1" height="3.1" fill="#3890b9" stroke="#2c7394" stroke-width="0.5"/>
<rect x="416.8" y="110.6" width="3.1" height="3.1" fill="#388fb9" stroke="#2c7294" stroke-width="0.5"/>
<rect x="416.9" y="95.7" width="3.1" height="3.1" fill="#388fb9" stroke="#2c7294" stroke-width="0.5"/>
<rect x="416.9" y="101.5" width="3.1" height="3.1" fill="#388fb8" stroke="#2c7293" stroke-width="0.5"/>
<rect x="417.0" y="99.8" width="3.1" height="3.1" fill="#388fb8" stroke="#2c7293" stroke-width="0.5"/>
<rect x="417.1" y="104.6" width="3.1" height="3.1" fill="#388fb8" stroke="#2c7293" stroke-width="0.5"/>
<rect x="417.2" y="100.7" width="3.1" height="3.1" fill="#388fb8" stroke="#2c7293" stroke-width="0.5"/>
<rect x="417.2" y="99.3" width="3.1" height="3.1" fill="#388eb8" stroke="#2c7193" stroke-width="0.5"/>
<rect x="417.3" y="104.1" width="3.1" height="3.1" fill="#388eb8" stroke="#2c7193" stroke-width="0.5"/>
<rect x="417.3" y="102.7" width="3.1" height="3.1" fill="#398eb7" stroke="#2d7192" stroke-width="0.5"/>
<rect x="417.4" y="99.8" width="3.1" height="3.1" fill="#398eb7" stroke="#2d7192" stroke-width="0.5"/>
<rect x="417.5" y="103.6" width="3.1" height="3.1" fill="#398eb7" stroke="#2d7192" stroke-width="0.5"/>
<rect x="417.6" y="106.3" width="3.1" height="3.1" fill="#398eb7" stroke="#2d7192" stroke-width="0.5"/>
<rect x="417.6" y="103.1" width="3.1" height="3.1" fill="#398eb7" stroke="#2d7192" stroke-width="0.5"/>
<rect x="417.7" y="106.4" width="3.1" height="3.1" fill="#398eb7" stroke="#2d7192" stroke-width="0.5"/>
<rect x="417.7" y="110.7" width="3.1" height="3.1" fill="#398eb6" stroke="#2d7191" stroke-width="0.5"/>
<rect x="417.7" y="102.8" width="3.1" height="3.1" fill="#398eb6" stroke="#2d7191" stroke-width="0.5"/>
<rect x="417.8" y="104.8" width="3.1" height="3.1" fill="#398db6" stroke="#2d7091" stroke-width="0.5"/>
<rect x="417.9" y="101.6" width="3.1" height="3.1" fill="#398db6" stroke="#2d7091" stroke-width="0.5"/>
<rect x="417.9" y="105.6" width="3.1" height="3.1" fill="#398db6" stroke="#2d7091" stroke-width="0.5"/>
<rect x="417.9" y="110.1" width="3.1" height="3.1" fill="#398db6" stroke="#2d7091" stroke-width="0.5"/>
<rect x="418.0" y="104.8" width="3.1" height="3.1" fill="#398db6" stroke="#2d7091" stroke-width="0.5"/>
<rect x="418.0" y="98.1" width="3.1" height="3.1" fill="#398db6" stroke="#2d7091" stroke-width="0.5"/>
<rect x="418.0" y="98.6" width="3.1" height="3.1" fill="#398db6" stroke="#2d7091" stroke-width="0.5"/>
<rect x="418.2" y="90.4" width="3.1" height="3.1" fill="#3a8db5" stroke="#2e7090" stroke-width="0.5"/>
<rect x="418.3" y="93.4" width="3.1" height="3.1" fill="#3a8cb5" stroke="#2e7090" stroke-width="0.5"/>
<rect x="418.8" y="102.7" width="3.1" height="3.1" fill="#3a8bb4" stroke="#2e6f90" stroke-width="0.5"/>
<rect x="419.2" y="102.6" width="3.1" height="3.1" fill="#3b8bb3" stroke="#2f6f8f" stroke-width="0.5"/>
<rect x="419.3" y="102.0" width="3.1" height="3.1" fill="#3b8ab3" stroke="#2f6e8f" stroke-width="0.5"/>
<rect x="419.4" y="105.7" width="3.1" height="3.1" fill="#3b8ab2" stroke="#2f6e8e" stroke-width="0.5"/>
<rect x="419.6" y="87.0" width="3.1" height="3.1" fill="#3b8ab2" stroke="#2f6e8e" stroke-width="0.5"/>
<rect x="420.2" y="92.3" width="3.1" height="3.1" fill="#3c89b1" stroke="#306d8d" stroke-width="0.5"/>
<rect x="420.2" y="105.4" width="3.1" height="3.1" fill="#3c89b1" stroke="#306d8d" stroke-width="0.5"/>
<rect x="420.5" y="101.5" width="3.1" height="3.1" fill="#3c89b0" stroke="#306d8c" stroke-width="0.5"/>
<rect x="420.9" y="97.0" width="3.1" height="3.1" fill="#3d88af" stroke="#306c8c" stroke-width="0.5"/>
<rect x="420.9" y="99.6" width="3.1" height="3.1" fill="#3d88af" stroke="#306c8c" stroke-width="0.5"/>
<rect x="421.0" y="94.8" width="3.1" height="3.1" fill="#3d88af" stroke="#306c8c" stroke-width="0.5"/>
<rect x="421.1" y="107.7" width="3.1" height="3.1" fill="#3d88af" stroke="#306c8c" stroke-width="0.5"/>
<rect x="421.1" y="104.6" width="3.1" height="3.1" fill="#3d88af" stroke="#306c8c" stroke-width="0.5"/>
<rect x="421.3" y="105.6" width="3.1" height="3.1" fill="#3d88af" stroke="#306c8c" stroke-width="0.5"/>
<rect x="421.3" y="100.0" width="3.1" height="3.1" fill="#3d87af" stroke="#306c8c" stroke-width="0.5"/>
<rect x="421.5" y="104.6" width="3.1" height="3.1" fill="#3e87ae" stroke="#316c8b" stroke-width="0.5"/>
<rect x="421.8" y="54.8" width="3.1" height="3.1" fill="#3e87ae" stroke="#316c8b" stroke-width="0.5"/>
<rect x="422.1" y="107.5" width="3.1" height="3.1" fill="#3e86ad" stroke="#316b8a" stroke-width="0.5"/>
<rect x="422.2" y="96.5" width="3.1" height="3.1" fill="#3e86ad" stroke="#316b8a" stroke-width="0.5"/>
<rect x="422.3" y="99.6" width="3.1" height="3.1" fill="#3f86ad" stroke="#326b8a" stroke-width="0.5"/>
<rect x="422.6" y="103.1" width="3.1" height="3.1" fill="#3f86ac" stroke="#326b89" stroke-width="0.5"/>
<rect x="422.6" y="101.2" width="3.1" height="3.1" fill="#3f86ac" stroke="#326b89" stroke-width="0.5"/>
<rect x="422.9" y="102.9" width="3.1" height="3.1" fill="#3f85ac" stroke="#326a89" stroke-width="0.5"/>
<rect x="423.0" y="116.9" width="3.1" height="3.1" fill="#3f85ac" stroke="#326a89" stroke-width="0.5"/>
<rect x="423.2" y="104.2" width="3.1" height="3.1" fill="#4085ab" stroke="#336a88" stroke-width="0.5"/>
<rect x="423.3" y="107.3" width="3.1" height="3.1" fill="#4085ab" stroke="#336a88" stroke-width="0.5"/>
<rect x="423.4" y="96.3" width="3.1" height="3.1" fill="#4085ab" stroke="#336a88" stroke-width="0.5"/>
<rect x="423.7" y="99.3" width="3.1" height="3.1" fill="#4084aa" stroke="#336988" stroke-width="0.5"/>
<rect x="423.7" y="106.7" width="3.1" height="3.1" fill="#4084aa" stroke="#336988" stroke-width="0.5"/>
<rect x="423.7" y="98.9" width="3.1" height="3.1" fill="#4084aa" stroke="#336988" stroke-width="0.5"/>
<rect x="423.8" y="112.6" width="3.1" height="3.1" fill="#4084aa" stroke="#336988" stroke-width="0.5"/>
<rect x="423.9" y="111.5" width="3.1" height="3.1" fill="#4084aa" stroke="#336988" stroke-width="0.5"/>
<rect x="424.1" y="105.9" width="3.1" height="3.1" fill="#4184aa" stroke="#346988" stroke-width="0.5"/>
<rect x="424.2" y="104.0" width="3.1" height="3.1" fill="#4184aa" stroke="#346988" stroke-width="0.5"/>
<rect x="424.6" y="109.2" width="3.1" height="3.1" fill="#4183a9" stroke="#346887" stroke-width="0.5"/>
<rect x="425.0" y="103.9" width="3.1" height="3.1" fill="#4282a8" stroke="#346886" stroke-width="0.5"/>
<rect x="425.5" y="105.9" width="3.1" height="3.1" fill="#4282a7" stroke="#346885" stroke-width="0.5"/>
<rect x="425.5" y="100.2" width="3.1" height="3.1" fill="#4282a7" stroke="#346885" stroke-width="0.5"/>
<rect x="425.6" y="99.4" width="3.1" height="3.1" fill="#4282a7" stroke="#346885" stroke-width="0.5"/>
<rect x="425.7" y="105.6" width="3.1" height="3.1" fill="#4381a7" stroke="#356785" stroke-width="0.5"/>
<rect x="425.8" y="107.2" width="3.1" height="3.1" fill="#4381a7" stroke="#356785" stroke-width="0.5"/>
<rect x="425.8" y="104.7" width="3.1" height="3.1" fill="#4381a7" stroke="#356785" stroke-width="0.5"/>
<rect x="426.2" y="100.7" width="3.1" height="3.1" fill="#4381a6" stroke="#356784" stroke-width="0.5"/>
<rect x="426.3" y="94.3" width="3.1" height="3.1" fill="#4381a6" stroke="#356784" stroke-width="0.5"/>
<rect x="426.4" y="104.7" width="3.1" height="3.1" fill="#4381a6" stroke="#356784" stroke-width="0.5"/>
<rect x="426.4" y="104.6" width="3.1" height="3.1" fill="#4381a6" stroke="#356784" stroke-width="0.5"/>
<rect x="426.5" y="103.9" width="3.1" height="3.1" fill="#4480a5" stroke="#366684" stroke-width="0.5"/>
<rect x="426.6" y="101.5" width="3.1" height="3.1" fill="#4480a5" stroke="#366684" stroke-width="0.5"/>
<rect x="426.9" y="103.1" width="3.1" height="3.1" fill="#4480a5" stroke="#366684" stroke-width="0.5"/>
<rect x="426.9" y="101.2" width="3.1" height="3.1" fill="#4480a5" stroke="#366684" stroke-width="0.5"/>
<rect x="427.1" y="102.1" width="3.1" height="3.1" fill="#4480a4" stroke="#366683" stroke-width="0.5"/>
<rect x="427.3" y="106.4" width="3.1" height="3.1" fill="#457fa4" stroke="#376583" stroke-width="0.5"/>
<rect x="427.6" y="98.6" width="3.1" height="3.1" fill="#457fa3" stroke="#376582" stroke-width="0.5"/>
<rect x="427.7" y="105.1" width="3.1" height="3.1" fill="#457fa3" stroke="#376582" stroke-width="0.5"/>
<rect x="427.8" y="104.9" width="3.1" height="3.1" fill="#457fa3" stroke="#376582" stroke-width="0.5"/>
<rect x="427.9" y="106.9" width="3.1" height="3.1" fill="#457ea3" stroke="#376482" stroke-width="0.5"/>
<rect x="428.1" y="99.9" width="3.1" height="3.1" fill="#457ea3" stroke="#376482" stroke-width="0.5"/>
<rect x="428.1" y="105.3" width="3.1" height="3.1" fill="#467ea2" stroke="#386481" stroke-width="0.5"/>
<rect x="428.2" y="104.4" width="3.1" height="3.1" fill="#467ea2" stroke="#386481" stroke-width="0.5"/>
<rect x="428.4" y="108.0" width="3.1" height="3.1" fill="#467ea2" stroke="#386481" stroke-width="0.5"/>
<rect x="428.6" y="97.3" width="3.1" height="3.1" fill="#467da1" stroke="#386480" stroke-width="0.5"/>
<rect x="428.6" y="101.2" width="3.1" height="3.1" fill="#467da1" stroke="#386480" stroke-width="0.5"/>
<rect x="428.8" y="99.7" width="3.1" height="3.1" fill="#467da1" stroke="#386480" stroke-width="0.5"/>
<rect x="428.9" y="102.9" width="3.1" height="3.1" fill="#467da1" stroke="#386480" stroke-width="0.5"/>
<rect x="429.2" y="108.3" width="3.1" height="3.1" fill="#477da0" stroke="#386480" stroke-width="0.5"/>
<rect x="429.5" y="105.6" width="3.1" height="3.1" fill="#477ca0" stroke="#386380" stroke-width="0.5"/>
<rect x="429.9" y="102.2" width="3.1" height="3.1" fill="#487c9f" stroke="#39637f" stroke-width="0.5"/>
<rect x="430.3" y="95.4" width="3.1" height="3.1" fill="#487b9e" stroke="#39627e" stroke-width="0.5"/>
<rect x="430.6" y="111.5" width="3.1" height="3.1" fill="#497b9e" stroke="#3a627e" stroke-width="0.5"/>
<rect x="430.6" y="102.8" width="3.1" height="3.1" fill="#497b9e" stroke="#3a627e" stroke-width="0.5"/>
<rect x="430.7" y="108.1" width="3.1" height="3.1" fill="#497b9e" stroke="#3a627e" stroke-width="0.5"/>
<rect x="430.9" y="101.4" width="3.1" height="3.1" fill="#497a9d" stroke="#3a617d" stroke-width="0.5"/>
<rect x="431.1" y="103.9" width="3.1" height="3.1" fill="#497a9d" stroke="#3a617d" stroke-width="0.5"/>
<rect x="431.2" y="95.8" width="3.1" height="3.1" fill="#497a9d" stroke="#3a617d" stroke-width="0.5"/>
<rect x="431.6" y="107.1" width="3.1" height="3.1" fill="#4a799c" stroke="#3b607c" stroke-width="0.5"/>
<rect x="431.6" y="111.6" width="3.1" height="3.1" fill="#4a799c" stroke="#3b607c" stroke-width="0.5"/>
<rect x="431.6" y="100.8" width="3.1" height="3.1" fill="#4a799c" stroke="#3b607c" stroke-width="0.5"/>
<rect x="431.8" y="100.2" width="3.1" height="3.1" fill="#4a799c" stroke="#3b607c" stroke-width="0.5"/>
<rect x="431.8" y="96.7" width="3.1" height="3.1" fill="#4a799c" stroke="#3b607c" stroke-width="0.5"/>
<rect x="431.8" y="97.6" width="3.1" height="3.1" fill="#4a799c" stroke="#3b607c" stroke-width="0.5"/>
<rect x="431.9" y="103.0" width="3.1" height="3.1" fill="#4a799c" stroke="#3b607c" stroke-width="0.5"/>
<rect x="431.9" y="101.0" width="3.1" height="3.1" fill="#4a799c" stroke="#3b607c" stroke-width="0.5"/>
<rect x="432.2" y="112.8" width="3.1" height="3.1" fill="#4a799b" stroke="#3b607c" stroke-width="0.5"/>
<rect x="432.2" y="99.5" width="3.1" height="3.1" fill="#4b799b" stroke="#3c607c" stroke-width="0.5"/>
<rect x="432.4" y="94.6" width="3.1" height="3.1" fill="#4b789b" stroke="#3c607c" stroke-width="0.5"/>
<rect x="432.5" y="105.5" width="3.1" height="3.1" fill="#4b789b" stroke="#3c607c" stroke-width="0.5"/>
<rect x="432.6" y="111.7" width="3.1" height="3.1" fill="#4b789a" stroke="#3c607b" stroke-width="0.5"/>
<rect x="432.6" y="111.5" width="3.1" height="3.1" fill="#4b789a" stroke="#3c607b" stroke-width="0.5"/>
<rect x="432.8" y="103.3" width="3.1" height="3.1" fill="#4b789a" stroke="#3c607b" stroke-width="0.5"/>
<rect x="433.0" y="103.6" width="3.1" height="3.1" fill="#4b789a" stroke="#3c607b" stroke-width="0.5"/>
<rect x="433.1" y="103.4" width="3.1" height="3.1" fill="#4c7799" stroke="#3c5f7a" stroke-width="0.5"/>
<rect x="433.2" y="106.4" width="3.1" height="3.1" fill="#4c7799" stroke="#3c5f7a" stroke-width="0.5"/>
<rect x="433.2" y="96.1" width="3.1" height="3.1" fill="#4c7799" stroke="#3c5f7a" stroke-width="0.5"/>
<rect x="433.4" y="101.2" width="3.1" height="3.1" fill="#4c7799" stroke="#3c5f7a" stroke-width="0.5"/>
<rect x="433.6" y="105.3" width="3.1" height="3.1" fill="#4c7799" stroke="#3c5f7a" stroke-width="0.5"/>
<rect x="433.9" y="107.9" width="3.1" height="3.1" fill="#4c7799" stroke="#3c5f7a" stroke-width="0.5"/>
<rect x="434.2" y="93.5" width="3.1" height="3.1" fill="#4d7698" stroke="#3d5e79" stroke-width="0.5"/>
<rect x="434.2" y="86.2" width="3.1" height="3.1" fill="#4d7698" stroke="#3d5e79" stroke-width="0.5"/>
<rect x="434.4" y="103.9" width="3.1" height="3.1" fill="#4d7698" stroke="#3d5e79" stroke-width="0.5"/>
<rect x="434.4" y="103.2" width="3.1" height="3.1" fill="#4d7698" stroke="#3d5e79" stroke-width="0.5"/>
<rect x="434.5" y="107.3" width="3.1" height="3.1" fill="#4d7698" stroke="#3d5e79" stroke-width="0.5"/>
<rect x="434.5" y="97.4" width="3.1" height="3.1" fill="#4d7698" stroke="#3d5e79" stroke-width="0.5"/>
<rect x="434.8" y="105.8" width="3.1" height="3.1" fill="#4d7698" stroke="#3d5e79" stroke-width="0.5"/>
<rect x="434.8" y="103.2" width="3.1" height="3.1" fill="#4d7698" stroke="#3d5e79" stroke-width="0.5"/>
<rect x="435.0" y="98.9" width="3.1" height="3.1" fill="#4e7697" stroke="#3e5e78" stroke-width="0.5"/>
<rect x="435.2" y="109.1" width="3.1" height="3.1" fill="#4e7697" stroke="#3e5e78" stroke-width="0.5"/>
<rect x="435.2" y="116.0" width="3.1" height="3.1" fill="#4e7697" stroke="#3e5e78" stroke-width="0.5"/>
<rect x="435.6" y="110.0" width="3.1" height="3.1" fill="#4e7597" stroke="#3e5d78" stroke-width="0.5"/>
<rect x="435.7" y="102.8" width="3.1" height="3.1" fill="#4e7597" stroke="#3e5d78" stroke-width="0.5"/>
<rect x="435.8" y="107.4" width="3.1" height="3.1" fill="#4e7597" stroke="#3e5d78" stroke-width="0.5"/>
<rect x="436.2" y="109.8" width="3.1" height="3.1" fill="#4f7596" stroke="#3f5d78" stroke-width="0.5"/>
<rect x="436.4" y="91.8" width="3.1" height="3.1" fill="#4f7496" stroke="#3f5c78" stroke-width="0.5"/>
<rect x="437.2" y="111.8" width="3.1" height="3.1" fill="#507495" stroke="#405c77" stroke-width="0.5"/>
<rect x="437.3" y="95.0" width="3.1" height="3.1" fill="#507495" stroke="#405c77" stroke-width="0.5"/>
<rect x="437.4" y="99.4" width="3.1" height="3.1" fill="#507495" stroke="#405c77" stroke-width="0.5"/>
<rect x="437.5" y="105.3" width="3.1" height="3.1" fill="#507395" stroke="#405c77" stroke-width="0.5"/>
<rect x="437.6" y="99.9" width="3.1" height="3.1" fill="#507395" stroke="#405c77" stroke-width="0.5"/>
<rect x="437.8" y="77.9" width="3.1" height="3.1" fill="#507395" stroke="#405c77" stroke-width="0.5"/>
<rect x="438.2" y="111.1" width="3.1" height="3.1" fill="#517394" stroke="#405c76" stroke-width="0.5"/>
<rect x="438.8" y="101.1" width="3.1" height="3.1" fill="#527293" stroke="#415b75" stroke-width="0.5"/>
<rect x="438.9" y="97.3" width="3.1" height="3.1" fill="#527293" stroke="#415b75" stroke-width="0.5"/>
<rect x="439.6" y="104.9" width="3.1" height="3.1" fill="#527293" stroke="#415b75" stroke-width="0.5"/>
<rect x="439.6" y="109.9" width="3.1" height="3.1" fill="#527293" stroke="#415b75" stroke-width="0.5"/>
<rect x="439.8" y="121.8" width="3.1" height="3.1" fill="#537192" stroke="#425a74" stroke-width="0.5"/>
<rect x="440.1" y="123.2" width="3.1" height="3.1" fill="#537192" stroke="#425a74" stroke-width="0.5"/>
<rect x="440.8" y="95.2" width="3.1" height="3.1" fill="#547091" stroke="#435974" stroke-width="0.5"/>
<rect x="441.0" y="96.3" width="3.1" height="3.1" fill="#547091" stroke="#435974" stroke-width="0.5"/>
<rect x="442.1" y="105.1" width="3.1" height="3.1" fill="#556f90" stroke="#445873" stroke-width="0.5"/>
<rect x="442.3" y="111.2" width="3.1" height="3.1" fill="#556f90" stroke="#445873" stroke-width="0.5"/>
<rect x="443.0" y="103.5" width="3.1" height="3.1" fill="#566e8f" stroke="#445872" stroke-width="0.5"/>
<rect x="444.8" y="107.4" width="3.1" height="3.1" fill="#586d8d" stroke="#465770" stroke-width="0.5"/>
<rect x="445.7" y="103.9" width="3.1" height="3.1" fill="#596c8c" stroke="#475670" stroke-width="0.5"/>
<rect x="446.1" y="111.0" width="3.1" height="3.1" fill="#596c8c" stroke="#475670" stroke-width="0.5"/>
<rect x="446.2" y="96.4" width="3.1" height="3.1" fill="#596c8c" stroke="#475670" stroke-width="0.5"/>
<rect x="446.6" y="86.2" width="3.1" height="3.1" fill="#5a6b8b" stroke="#48556f" stroke-width="0.5"/>
<rect x="446.8" y="86.4" width="3.1" height="3.1" fill="#5a6b8b" stroke="#48556f" stroke-width="0.5"/>
<rect x="447.5" y="98.9" width="3.1" height="3.1" fill="#5b6a8a" stroke="#48546e" stroke-width="0.5"/>
<rect x="447.8" y="102.5" width="3.1" height="3.1" fill="#5b6a8a" stroke="#48546e" stroke-width="0.5"/>
<rect x="449.5" y="99.0" width="3.1" height="3.1" fill="#5d6988" stroke="#4a546c" stroke-width="0.5"/>
<rect x="450.1" y="103.2" width="3.1" height="3.1" fill="#5e6888" stroke="#4b536c" stroke-width="0.5"/>
<rect x="450.8" y="108.9" width="3.1" height="3.1" fill="#5f6787" stroke="#4c526c" stroke-width="0.5"/>
<rect x="451.4" y="105.1" width="3.1" height="3.1" fill="#606786" stroke="#4c526b" stroke-width="0.5"/>
<rect x="452.1" y="116.7" width="3.1" height="3.1" fill="#616685" stroke="#4d516a" stroke-width="0.5"/>
<rect x="452.2" y="110.4" width="3.1" height="3.1" fill="#616685" stroke="#4d516a" stroke-width="0.5"/>
<rect x="452.7" y="97.4" width="3.1" height="3.1" fill="#616685" stroke="#4d516a" stroke-width="0.5"/>
<rect x="453.0" y="107.6" width="3.1" height="3.1" fill="#626584" stroke="#4e5069" stroke-width="0.5"/>
<rect x="455.5" y="102.2" width="3.1" height="3.1" fill="#656382" stroke="#504f68" stroke-width="0.5"/>
<rect x="455.7" y="104.8" width="3.1" height="3.1" fill="#656382" stroke="#504f68" stroke-width="0.5"/>
<rect x="455.7" y="109.4" width="3.1" height="3.1" fill="#656382" stroke="#504f68" stroke-width="0.5"/>
<rect x="455.8" y="96.5" width="3.1" height="3.1" fill="#656382" stroke="#504f68" stroke-width="0.5"/>
<rect x="456.1" y="85.0" width="3.1" height="3.1" fill="#656381" stroke="#504f67" stroke-width="0.5"/>
<rect x="456.3" y="97.2" width="3.1" height="3.1" fill="#666281" stroke="#514e67" stroke-width="0.5"/>
<rect x="456.7" y="113.9" width="3.1" height="3.1" fill="#666281" stroke="#514e67" stroke-width="0.5"/>
<rect x="456.8" y="91.9" width="3.1" height="3.1" fill="#666280" stroke="#514e66" stroke-width="0.5"/>
<rect x="457.0" y="97.3" width="3.1" height="3.1" fill="#666280" stroke="#514e66" stroke-width="0.5"/>
<rect x="457.3" y="101.5" width="3.1" height="3.1" fill="#676280" stroke="#524e66" stroke-width="0.5"/>
<rect x="457.7" y="104.5" width="3.1" height="3.1" fill="#67617f" stroke="#524d65" stroke-width="0.5"/>
<rect x="458.2" y="105.7" width="3.1" height="3.1" fill="#68617f" stroke="#534d65" stroke-width="0.5"/>
<rect x="458.9" y="104.8" width="3.1" height="3.1" fill="#69607e" stroke="#544c64" stroke-width="0.5"/>
<rect x="459.0" y="103.0" width="3.1" height="3.1" fill="#69607e" stroke="#544c64" stroke-width="0.5"/>
<rect x="459.9" y="108.1" width="3.1" height="3.1" fill="#6a5f7d" stroke="#544c64" stroke-width="0.5"/>
<rect x="460.1" y="97.2" width="3.1" height="3.1" fill="#6a5f7d" stroke="#544c64" stroke-width="0.5"/>
<rect x="460.5" y="103.6" width="3.1" height="3.1" fill="#6b5e7c" stroke="#554b63" stroke-width="0.5"/>
<rect x="461.3" y="105.6" width="3.1" height="3.1" fill="#6c5c7a" stroke="#564961" stroke-width="0.5"/>
<rect x="461.7" y="104.5" width="3.1" height="3.1" fill="#6d5c7a" stroke="#574961" stroke-width="0.5"/>
<rect x="461.7" y="109.5" width="3.1" height="3.1" fill="#6d5c7a" stroke="#574961" stroke-width="0.5"/>
<rect x="462.9" y="111.7" width="3.1" height="3.1" fill="#6f5977" stroke="#58475f" stroke-width="0.5"/>
<rect x="463.1" y="104.5" width="3.1" height="3.1" fill="#6f5977" stroke="#58475f" stroke-width="0.5"/>
<rect x="464.3" y="99.8" width="3.1" height="3.1" fill="#715775" stroke="#5a455d" stroke-width="0.5"/>
<rect x="464.5" y="102.5" width="3.1" height="3.1" fill="#725775" stroke="#5b455d" stroke-width="0.5"/>
<rect x="464.8" y="92.9" width="3.1" height="3.1" fill="#725674" stroke="#5b445c" stroke-width="0.5"/>
<rect x="466.0" y="102.1" width="3.1" height="3.1" fill="#745472" stroke="#5c435b" stroke-width="0.5"/>
<rect x="466.4" y="97.4" width="3.1" height="3.1" fill="#755371" stroke="#5d425a" stroke-width="0.5"/>
<rect x="468.8" y="97.2" width="3.1" height="3.1" fill="#794f6d" stroke="#603f57" stroke-width="0.5"/>
<rect x="473.1" y="92.2" width="3.1" height="3.1" fill="#804765" stroke="#663850" stroke-width="0.5"/>
<rect x="473.1" y="113.9" width="3.1" height="3.1" fill="#804765" stroke="#663850" stroke-width="0.5"/>
<rect x="473.8" y="108.8" width="3.1" height="3.1" fill="#814664" stroke="#673850" stroke-width="0.5"/>
<rect x="474.4" y="97.2" width="3.1" height="3.1" fill="#824563" stroke="#68374f" stroke-width="0.5"/>
<rect x="476.6" y="113.0" width="3.1" height="3.1" fill="#87415f" stroke="#6c344c" stroke-width="0.5"/>
<rect x="477.4" y="98.0" width="3.1" height="3.1" fill="#88405e" stroke="#6c334b" stroke-width="0.5"/>
<rect x="480.6" y="92.2" width="3.1" height="3.1" fill="#8e3b58" stroke="#712f46" stroke-width="0.5"/>
<rect x="486.8" y="100.0" width="3.1" height="3.1" fill="#99314e" stroke="#7a273e" stroke-width="0.5"/>
<rect x="490.4" y="95.5" width="3.1" height="3.1" fill="#9e2e49" stroke="#7e243a" stroke-width="0.5"/>
<rect x="492.6" y="111.0" width="3.1" height="3.1" fill="#a12c47" stroke="#802338" stroke-width="0.5"/>
<rect x="493.2" y="98.7" width="3.1" height="3.1" fill="#a22c46" stroke="#812338" stroke-width="0.5"/>
<rect x="494.8" y="108.0" width="3.1" height="3.1" fill="#a42a44" stroke="#832136" stroke-width="0.5"/>
<rect x="495.4" y="97.2" width="3.1" height="3.1" fill="#a42a44" stroke="#832136" stroke-width="0.5"/>
<line x1="380.50" y1="104.50" x2="514.10" y2="104.50" stroke="#0a0a0a" stroke-width="3"/>
<line x1="383.00" y1="104.50" x2="511.30" y2="107.00" stroke="#e5202a" stroke-width="3.4"/>
<rect x="379.80" y="52.50" width="135" height="103.5" fill="none" stroke="#3a3a3a" stroke-width="1.5"/>
<line x1="378.00" y1="143.95" x2="379.80" y2="143.95" stroke="#222" stroke-width="1.2"/>
<line x1="378.00" y1="124.08" x2="379.80" y2="124.08" stroke="#222" stroke-width="1.2"/>
<line x1="378.00" y1="104.20" x2="379.80" y2="104.20" stroke="#222" stroke-width="1.2"/>
<line x1="378.00" y1="84.33" x2="379.80" y2="84.33" stroke="#222" stroke-width="1.2"/>
<line x1="378.00" y1="64.45" x2="379.80" y2="64.45" stroke="#222" stroke-width="1.2"/>
<line x1="396.70" y1="156.00" x2="396.70" y2="157.80" stroke="#222" stroke-width="1.2"/>
<line x1="415.65" y1="156.00" x2="415.65" y2="157.80" stroke="#222" stroke-width="1.2"/>
<line x1="434.60" y1="156.00" x2="434.60" y2="157.80" stroke="#222" stroke-width="1.2"/>
<line x1="453.55" y1="156.00" x2="453.55" y2="157.80" stroke="#222" stroke-width="1.2"/>
<line x1="472.50" y1="156.00" x2="472.50" y2="157.80" stroke="#222" stroke-width="1.2"/>
<line x1="491.45" y1="156.00" x2="491.45" y2="157.80" stroke="#222" stroke-width="1.2"/>
<line x1="510.40" y1="156.00" x2="510.40" y2="157.80" stroke="#222" stroke-width="1.2"/>
<path d="M364.40,64.45 L373.20,64.45 M364.60,64.25 L366.20,66.85" stroke="#231f20" stroke-width="1.45" fill="none"/>
<text x="373.20" y="104.20" font-size="12.3" fill="#231f20" stroke="#231f20" stroke-width="0.18" text-anchor="middle" transform="rotate(-90 373.20 104.20)">0</text>
<path d="M364.40,143.95 L373.20,143.95 M364.60,143.75 L366.20,146.35" stroke="#231f20" stroke-width="1.45" fill="none"/>
<rect x="368.70" y="148.35" width="1.5" height="3.2" fill="#231f20"/>
<text x="358.10" y="123.30" font-size="12.7" fill="#231f20" stroke="#231f20" stroke-width="0.18" textLength="38.50" lengthAdjust="spacingAndGlyphs" transform="rotate(-90 358.10 123.30)">155–EV</text>
<rect x="149.5" y="210.6" width="3.1" height="3.1" fill="#28abd7" stroke="#2088ac" stroke-width="0.5"/>
<rect x="150.1" y="210.7" width="3.1" height="3.1" fill="#28abd7" stroke="#2088ac" stroke-width="0.5"/>
<rect x="150.8" y="213.1" width="3.1" height="3.1" fill="#28abd7" stroke="#2088ac" stroke-width="0.5"/>
<rect x="152.2" y="209.9" width="3.1" height="3.1" fill="#28aad7" stroke="#2088ac" stroke-width="0.5"/>
<rect x="152.3" y="209.7" width="3.1" height="3.1" fill="#28aad6" stroke="#2088ab" stroke-width="0.5"/>
<rect x="152.5" y="211.0" width="3.1" height="3.1" fill="#28aad6" stroke="#2088ab" stroke-width="0.5"/>
<rect x="152.5" y="207.3" width="3.1" height="3.1" fill="#28aad6" stroke="#2088ab" stroke-width="0.5"/>
<rect x="152.9" y="205.1" width="3.1" height="3.1" fill="#28aad6" stroke="#2088ab" stroke-width="0.5"/>
<rect x="153.3" y="211.0" width="3.1" height="3.1" fill="#28aad6" stroke="#2088ab" stroke-width="0.5"/>
<rect x="153.6" y="207.5" width="3.1" height="3.1" fill="#28aad6" stroke="#2088ab" stroke-width="0.5"/>
<rect x="153.7" y="207.0" width="3.1" height="3.1" fill="#28aad6" stroke="#2088ab" stroke-width="0.5"/>
<rect x="154.1" y="206.7" width="3.1" height="3.1" fill="#28aad6" stroke="#2088ab" stroke-width="0.5"/>
<rect x="154.7" y="214.9" width="3.1" height="3.1" fill="#29a9d6" stroke="#2087ab" stroke-width="0.5"/>
<rect x="154.9" y="207.8" width="3.1" height="3.1" fill="#29a9d6" stroke="#2087ab" stroke-width="0.5"/>
<rect x="155.2" y="212.9" width="3.1" height="3.1" fill="#29a9d6" stroke="#2087ab" stroke-width="0.5"/>
<rect x="155.5" y="208.9" width="3.1" height="3.1" fill="#29a9d6" stroke="#2087ab" stroke-width="0.5"/>
<rect x="155.7" y="206.9" width="3.1" height="3.1" fill="#29a9d6" stroke="#2087ab" stroke-width="0.5"/>
<rect x="155.9" y="213.6" width="3.1" height="3.1" fill="#29a9d6" stroke="#2087ab" stroke-width="0.5"/>
<rect x="156.0" y="210.1" width="3.1" height="3.1" fill="#29a9d6" stroke="#2087ab" stroke-width="0.5"/>
<rect x="156.3" y="204.6" width="3.1" height="3.1" fill="#29a9d5" stroke="#2087aa" stroke-width="0.5"/>
<rect x="156.6" y="209.0" width="3.1" height="3.1" fill="#29a9d5" stroke="#2087aa" stroke-width="0.5"/>
<rect x="157.3" y="206.4" width="3.1" height="3.1" fill="#29a9d5" stroke="#2087aa" stroke-width="0.5"/>
<rect x="157.4" y="220.9" width="3.1" height="3.1" fill="#29a8d5" stroke="#2086aa" stroke-width="0.5"/>
<rect x="157.9" y="207.7" width="3.1" height="3.1" fill="#29a8d5" stroke="#2086aa" stroke-width="0.5"/>
<rect x="158.0" y="210.6" width="3.1" height="3.1" fill="#29a8d5" stroke="#2086aa" stroke-width="0.5"/>
<rect x="158.1" y="216.9" width="3.1" height="3.1" fill="#29a8d5" stroke="#2086aa" stroke-width="0.5"/>
<rect x="158.2" y="214.7" width="3.1" height="3.1" fill="#29a8d5" stroke="#2086aa" stroke-width="0.5"/>
<rect x="158.5" y="216.1" width="3.1" height="3.1" fill="#29a8d5" stroke="#2086aa" stroke-width="0.5"/>
<rect x="158.5" y="208.1" width="3.1" height="3.1" fill="#29a8d5" stroke="#2086aa" stroke-width="0.5"/>
<rect x="158.6" y="209.2" width="3.1" height="3.1" fill="#29a8d5" stroke="#2086aa" stroke-width="0.5"/>
<rect x="158.9" y="212.2" width="3.1" height="3.1" fill="#29a8d5" stroke="#2086aa" stroke-width="0.5"/>
<rect x="159.7" y="208.7" width="3.1" height="3.1" fill="#29a8d5" stroke="#2086aa" stroke-width="0.5"/>
<rect x="160.0" y="212.5" width="3.1" height="3.1" fill="#29a8d5" stroke="#2086aa" stroke-width="0.5"/>
<rect x="160.8" y="218.1" width="3.1" height="3.1" fill="#2aa7d4" stroke="#2185a9" stroke-width="0.5"/>
<rect x="161.3" y="213.6" width="3.1" height="3.1" fill="#2aa7d4" stroke="#2185a9" stroke-width="0.5"/>
<rect x="161.4" y="209.1" width="3.1" height="3.1" fill="#2aa7d4" stroke="#2185a9" stroke-width="0.5"/>
<rect x="161.4" y="213.3" width="3.1" height="3.1" fill="#2aa7d4" stroke="#2185a9" stroke-width="0.5"/>
<rect x="161.4" y="214.4" width="3.1" height="3.1" fill="#2aa7d4" stroke="#2185a9" stroke-width="0.5"/>
<rect x="161.6" y="214.1" width="3.1" height="3.1" fill="#2aa7d4" stroke="#2185a9" stroke-width="0.5"/>
<rect x="161.7" y="211.8" width="3.1" height="3.1" fill="#2aa7d4" stroke="#2185a9" stroke-width="0.5"/>
<rect x="161.9" y="210.3" width="3.1" height="3.1" fill="#2aa7d4" stroke="#2185a9" stroke-width="0.5"/>
<rect x="162.2" y="212.9" width="3.1" height="3.1" fill="#2aa7d4" stroke="#2185a9" stroke-width="0.5"/>
<rect x="163.2" y="205.8" width="3.1" height="3.1" fill="#2aa7d4" stroke="#2185a9" stroke-width="0.5"/>
<rect x="164.1" y="212.2" width="3.1" height="3.1" fill="#2aa6d4" stroke="#2184a9" stroke-width="0.5"/>
<rect x="164.1" y="213.3" width="3.1" height="3.1" fill="#2aa6d4" stroke="#2184a9" stroke-width="0.5"/>
<rect x="164.4" y="209.8" width="3.1" height="3.1" fill="#2aa6d4" stroke="#2184a9" stroke-width="0.5"/>
<rect x="164.9" y="208.5" width="3.1" height="3.1" fill="#2aa6d3" stroke="#2184a8" stroke-width="0.5"/>
<rect x="168.4" y="208.5" width="3.1" height="3.1" fill="#2ba5d3" stroke="#2284a8" stroke-width="0.5"/>
<rect x="168.4" y="218.1" width="3.1" height="3.1" fill="#2ba5d3" stroke="#2284a8" stroke-width="0.5"/>
<rect x="170.4" y="214.4" width="3.1" height="3.1" fill="#2ba4d2" stroke="#2283a8" stroke-width="0.5"/>
<rect x="173.2" y="207.9" width="3.1" height="3.1" fill="#2ca2d0" stroke="#2381a6" stroke-width="0.5"/>
<rect x="173.9" y="214.0" width="3.1" height="3.1" fill="#2da1cf" stroke="#2480a5" stroke-width="0.5"/>
<rect x="176.4" y="214.4" width="3.1" height="3.1" fill="#309cc9" stroke="#267ca0" stroke-width="0.5"/>
<rect x="179.8" y="202.4" width="3.1" height="3.1" fill="#3496c1" stroke="#29789a" stroke-width="0.5"/>
<rect x="180.3" y="223.6" width="3.1" height="3.1" fill="#3595bf" stroke="#2a7798" stroke-width="0.5"/>
<rect x="180.8" y="222.2" width="3.1" height="3.1" fill="#3594be" stroke="#2a7698" stroke-width="0.5"/>
<rect x="182.1" y="207.2" width="3.1" height="3.1" fill="#3791bb" stroke="#2c7495" stroke-width="0.5"/>
<rect x="182.8" y="216.1" width="3.1" height="3.1" fill="#3890b9" stroke="#2c7394" stroke-width="0.5"/>
<rect x="183.4" y="207.2" width="3.1" height="3.1" fill="#388eb8" stroke="#2c7193" stroke-width="0.5"/>
<rect x="184.4" y="213.4" width="3.1" height="3.1" fill="#3a8db5" stroke="#2e7090" stroke-width="0.5"/>
<rect x="186.9" y="207.9" width="3.1" height="3.1" fill="#3d88b0" stroke="#306c8c" stroke-width="0.5"/>
<rect x="188.4" y="212.4" width="3.1" height="3.1" fill="#3e86ad" stroke="#316b8a" stroke-width="0.5"/>
<rect x="191.0" y="208.5" width="3.1" height="3.1" fill="#4283a8" stroke="#346886" stroke-width="0.5"/>
<rect x="191.0" y="235.9" width="3.1" height="3.1" fill="#4283a8" stroke="#346886" stroke-width="0.5"/>
<rect x="194.0" y="218.4" width="3.1" height="3.1" fill="#457fa3" stroke="#376582" stroke-width="0.5"/>
<rect x="195.8" y="209.2" width="3.1" height="3.1" fill="#477ca0" stroke="#386380" stroke-width="0.5"/>
<rect x="198.4" y="210.4" width="3.1" height="3.1" fill="#4b799b" stroke="#3c607c" stroke-width="0.5"/>
<rect x="201.9" y="197.6" width="3.1" height="3.1" fill="#4e7597" stroke="#3e5d78" stroke-width="0.5"/>
<rect x="203.3" y="198.9" width="3.1" height="3.1" fill="#507495" stroke="#405c77" stroke-width="0.5"/>
<rect x="208.1" y="207.9" width="3.1" height="3.1" fill="#556f90" stroke="#445873" stroke-width="0.5"/>
<rect x="213.6" y="219.4" width="3.1" height="3.1" fill="#5b6a8a" stroke="#48546e" stroke-width="0.5"/>
<rect x="213.6" y="236.6" width="3.1" height="3.1" fill="#5b6a8a" stroke="#48546e" stroke-width="0.5"/>
<rect x="214.5" y="220.2" width="3.1" height="3.1" fill="#5c6a89" stroke="#49546d" stroke-width="0.5"/>
<rect x="214.5" y="236.6" width="3.1" height="3.1" fill="#5c6a89" stroke="#49546d" stroke-width="0.5"/>
<rect x="215.6" y="200.3" width="3.1" height="3.1" fill="#5d6988" stroke="#4a546c" stroke-width="0.5"/>
<rect x="215.9" y="217.4" width="3.1" height="3.1" fill="#5e6888" stroke="#4b536c" stroke-width="0.5"/>
<rect x="217.0" y="206.5" width="3.1" height="3.1" fill="#5f6787" stroke="#4c526c" stroke-width="0.5"/>
<rect x="219.3" y="210.6" width="3.1" height="3.1" fill="#626584" stroke="#4e5069" stroke-width="0.5"/>
<rect x="223.0" y="207.9" width="3.1" height="3.1" fill="#666280" stroke="#514e66" stroke-width="0.5"/>
<rect x="224.1" y="205.8" width="3.1" height="3.1" fill="#68617f" stroke="#534d65" stroke-width="0.5"/>
<rect x="225.5" y="216.1" width="3.1" height="3.1" fill="#69607e" stroke="#544c64" stroke-width="0.5"/>
<rect x="237.1" y="214.3" width="3.1" height="3.1" fill="#7c4b69" stroke="#633c54" stroke-width="0.5"/>
<rect x="238.5" y="205.5" width="3.1" height="3.1" fill="#7f4866" stroke="#653951" stroke-width="0.5"/>
<rect x="245.3" y="224.3" width="3.1" height="3.1" fill="#8b3e5b" stroke="#6f3148" stroke-width="0.5"/>
<rect x="247.1" y="222.0" width="3.1" height="3.1" fill="#8e3b58" stroke="#712f46" stroke-width="0.5"/>
<rect x="247.4" y="209.2" width="3.1" height="3.1" fill="#8f3a57" stroke="#722e45" stroke-width="0.5"/>
<line x1="146.70" y1="213.50" x2="280.30" y2="213.50" stroke="#0a0a0a" stroke-width="3"/>
<line x1="149.20" y1="213.30" x2="277.50" y2="215.80" stroke="#e5202a" stroke-width="3.4"/>
<rect x="146.00" y="161.50" width="135" height="103.5" fill="none" stroke="#3a3a3a" stroke-width="1.5"/>
<line x1="144.20" y1="252.95" x2="146.00" y2="252.95" stroke="#222" stroke-width="1.2"/>
<line x1="144.20" y1="233.07" x2="146.00" y2="233.07" stroke="#222" stroke-width="1.2"/>
<line x1="144.20" y1="213.20" x2="146.00" y2="213.20" stroke="#222" stroke-width="1.2"/>
<line x1="144.20" y1="193.32" x2="146.00" y2="193.32" stroke="#222" stroke-width="1.2"/>
<line x1="144.20" y1="173.45" x2="146.00" y2="173.45" stroke="#222" stroke-width="1.2"/>
<line x1="162.90" y1="265.00" x2="162.90" y2="266.80" stroke="#222" stroke-width="1.2"/>
<line x1="181.85" y1="265.00" x2="181.85" y2="266.80" stroke="#222" stroke-width="1.2"/>
<line x1="200.80" y1="265.00" x2="200.80" y2="266.80" stroke="#222" stroke-width="1.2"/>
<line x1="219.75" y1="265.00" x2="219.75" y2="266.80" stroke="#222" stroke-width="1.2"/>
<line x1="238.70" y1="265.00" x2="238.70" y2="266.80" stroke="#222" stroke-width="1.2"/>
<line x1="257.65" y1="265.00" x2="257.65" y2="266.80" stroke="#222" stroke-width="1.2"/>
<line x1="276.60" y1="265.00" x2="276.60" y2="266.80" stroke="#222" stroke-width="1.2"/>
<path d="M130.60,173.45 L139.40,173.45 M130.80,173.25 L132.40,175.85" stroke="#231f20" stroke-width="1.45" fill="none"/>
<text x="139.40" y="213.20" font-size="12.3" fill="#231f20" stroke="#231f20" stroke-width="0.18" text-anchor="middle" transform="rotate(-90 139.40 213.20)">0</text>
<path d="M130.60,252.95 L139.40,252.95 M130.80,252.75 L132.40,255.35" stroke="#231f20" stroke-width="1.45" fill="none"/>
<rect x="134.90" y="257.35" width="1.5" height="3.2" fill="#231f20"/>
<text x="162.90" y="279.70" font-size="12.5" fill="#231f20" stroke="#231f20" stroke-width="0.18" text-anchor="middle">7</text>
<text x="181.85" y="279.70" font-size="12.5" fill="#231f20" stroke="#231f20" stroke-width="0.18" text-anchor="middle">8</text>
<text x="200.80" y="279.70" font-size="12.5" fill="#231f20" stroke="#231f20" stroke-width="0.18" text-anchor="middle">9</text>
<text x="219.75" y="279.70" font-size="12.5" fill="#231f20" stroke="#231f20" stroke-width="0.18" text-anchor="middle">10</text>
<text x="238.70" y="279.70" font-size="12.5" fill="#231f20" stroke="#231f20" stroke-width="0.18" text-anchor="middle">11</text>
<text x="257.65" y="279.70" font-size="12.5" fill="#231f20" stroke="#231f20" stroke-width="0.18" text-anchor="middle">12</text>
<text x="276.60" y="279.70" font-size="12.5" fill="#231f20" stroke="#231f20" stroke-width="0.18" text-anchor="middle">13</text>
<text x="122.70" y="239.60" font-size="12.7" fill="#231f20" stroke="#231f20" stroke-width="0.18" textLength="50.50" lengthAdjust="spacingAndGlyphs" transform="rotate(-90 122.70 239.60)">CLUS–EV</text>
<rect x="382.9" y="218.8" width="3.1" height="3.1" fill="#28abd7" stroke="#2088ac" stroke-width="0.5"/>
<rect x="382.9" y="215.2" width="3.1" height="3.1" fill="#28abd7" stroke="#2088ac" stroke-width="0.5"/>
<rect x="383.1" y="211.1" width="3.1" height="3.1" fill="#28abd7" stroke="#2088ac" stroke-width="0.5"/>
<rect x="383.1" y="217.7" width="3.1" height="3.1" fill="#28abd7" stroke="#2088ac" stroke-width="0.5"/>
<rect x="383.2" y="220.6" width="3.1" height="3.1" fill="#28abd7" stroke="#2088ac" stroke-width="0.5"/>
<rect x="383.8" y="214.4" width="3.1" height="3.1" fill="#28abd7" stroke="#2088ac" stroke-width="0.5"/>
<rect x="384.0" y="219.3" width="3.1" height="3.1" fill="#28abd7" stroke="#2088ac" stroke-width="0.5"/>
<rect x="384.0" y="207.8" width="3.1" height="3.1" fill="#28abd7" stroke="#2088ac" stroke-width="0.5"/>
<rect x="384.1" y="219.1" width="3.1" height="3.1" fill="#28abd7" stroke="#2088ac" stroke-width="0.5"/>
<rect x="384.3" y="218.8" width="3.1" height="3.1" fill="#28abd7" stroke="#2088ac" stroke-width="0.5"/>
<rect x="384.4" y="210.8" width="3.1" height="3.1" fill="#28abd7" stroke="#2088ac" stroke-width="0.5"/>
<rect x="385.0" y="216.5" width="3.1" height="3.1" fill="#28aad7" stroke="#2088ac" stroke-width="0.5"/>
<rect x="385.1" y="216.7" width="3.1" height="3.1" fill="#28aad7" stroke="#2088ac" stroke-width="0.5"/>
<rect x="385.3" y="219.3" width="3.1" height="3.1" fill="#28aad7" stroke="#2088ac" stroke-width="0.5"/>
<rect x="385.9" y="216.5" width="3.1" height="3.1" fill="#28aad7" stroke="#2088ac" stroke-width="0.5"/>
<rect x="386.1" y="205.2" width="3.1" height="3.1" fill="#28aad6" stroke="#2088ab" stroke-width="0.5"/>
<rect x="386.2" y="207.2" width="3.1" height="3.1" fill="#28aad6" stroke="#2088ab" stroke-width="0.5"/>
<rect x="386.6" y="207.5" width="3.1" height="3.1" fill="#28aad6" stroke="#2088ab" stroke-width="0.5"/>
<rect x="386.9" y="221.0" width="3.1" height="3.1" fill="#28aad6" stroke="#2088ab" stroke-width="0.5"/>
<rect x="387.0" y="216.8" width="3.1" height="3.1" fill="#28aad6" stroke="#2088ab" stroke-width="0.5"/>
<rect x="387.6" y="214.1" width="3.1" height="3.1" fill="#28aad6" stroke="#2088ab" stroke-width="0.5"/>
<rect x="387.6" y="218.3" width="3.1" height="3.1" fill="#28aad6" stroke="#2088ab" stroke-width="0.5"/>
<rect x="387.9" y="205.6" width="3.1" height="3.1" fill="#28aad6" stroke="#2088ab" stroke-width="0.5"/>
<rect x="388.0" y="204.0" width="3.1" height="3.1" fill="#28aad6" stroke="#2088ab" stroke-width="0.5"/>
<rect x="388.2" y="210.4" width="3.1" height="3.1" fill="#29a9d6" stroke="#2087ab" stroke-width="0.5"/>
<rect x="388.3" y="222.2" width="3.1" height="3.1" fill="#29a9d6" stroke="#2087ab" stroke-width="0.5"/>
<rect x="388.4" y="207.8" width="3.1" height="3.1" fill="#29a9d6" stroke="#2087ab" stroke-width="0.5"/>
<rect x="388.7" y="217.6" width="3.1" height="3.1" fill="#29a9d6" stroke="#2087ab" stroke-width="0.5"/>
<rect x="389.2" y="217.1" width="3.1" height="3.1" fill="#29a9d6" stroke="#2087ab" stroke-width="0.5"/>
<rect x="389.7" y="219.4" width="3.1" height="3.1" fill="#29a9d6" stroke="#2087ab" stroke-width="0.5"/>
<rect x="389.7" y="207.6" width="3.1" height="3.1" fill="#29a9d6" stroke="#2087ab" stroke-width="0.5"/>
<rect x="389.7" y="204.4" width="3.1" height="3.1" fill="#29a9d6" stroke="#2087ab" stroke-width="0.5"/>
<rect x="389.8" y="215.1" width="3.1" height="3.1" fill="#29a9d6" stroke="#2087ab" stroke-width="0.5"/>
<rect x="390.6" y="205.1" width="3.1" height="3.1" fill="#29a9d5" stroke="#2087aa" stroke-width="0.5"/>
<rect x="390.8" y="222.4" width="3.1" height="3.1" fill="#29a9d5" stroke="#2087aa" stroke-width="0.5"/>
<rect x="391.2" y="214.1" width="3.1" height="3.1" fill="#29a8d5" stroke="#2086aa" stroke-width="0.5"/>
<rect x="391.3" y="223.1" width="3.1" height="3.1" fill="#29a8d5" stroke="#2086aa" stroke-width="0.5"/>
<rect x="391.8" y="201.6" width="3.1" height="3.1" fill="#29a8d5" stroke="#2086aa" stroke-width="0.5"/>
<rect x="391.8" y="205.7" width="3.1" height="3.1" fill="#29a8d5" stroke="#2086aa" stroke-width="0.5"/>
<rect x="392.2" y="206.0" width="3.1" height="3.1" fill="#29a8d5" stroke="#2086aa" stroke-width="0.5"/>
<rect x="392.3" y="221.7" width="3.1" height="3.1" fill="#29a8d5" stroke="#2086aa" stroke-width="0.5"/>
<rect x="392.4" y="220.8" width="3.1" height="3.1" fill="#29a8d5" stroke="#2086aa" stroke-width="0.5"/>
<rect x="392.6" y="206.2" width="3.1" height="3.1" fill="#29a8d5" stroke="#2086aa" stroke-width="0.5"/>
<rect x="392.7" y="214.3" width="3.1" height="3.1" fill="#29a8d5" stroke="#2086aa" stroke-width="0.5"/>
<rect x="393.1" y="219.3" width="3.1" height="3.1" fill="#29a8d5" stroke="#2086aa" stroke-width="0.5"/>
<rect x="393.2" y="205.7" width="3.1" height="3.1" fill="#29a8d5" stroke="#2086aa" stroke-width="0.5"/>
<rect x="393.7" y="210.1" width="3.1" height="3.1" fill="#29a8d5" stroke="#2086aa" stroke-width="0.5"/>
<rect x="393.7" y="217.8" width="3.1" height="3.1" fill="#29a8d5" stroke="#2086aa" stroke-width="0.5"/>
<rect x="394.2" y="223.0" width="3.1" height="3.1" fill="#29a8d5" stroke="#2086aa" stroke-width="0.5"/>
<rect x="394.3" y="221.5" width="3.1" height="3.1" fill="#2aa7d4" stroke="#2185a9" stroke-width="0.5"/>
<rect x="394.6" y="214.6" width="3.1" height="3.1" fill="#2aa7d4" stroke="#2185a9" stroke-width="0.5"/>
<rect x="394.7" y="221.9" width="3.1" height="3.1" fill="#2aa7d4" stroke="#2185a9" stroke-width="0.5"/>
<rect x="394.8" y="212.3" width="3.1" height="3.1" fill="#2aa7d4" stroke="#2185a9" stroke-width="0.5"/>
<rect x="395.3" y="209.7" width="3.1" height="3.1" fill="#2aa7d4" stroke="#2185a9" stroke-width="0.5"/>
<rect x="395.3" y="216.1" width="3.1" height="3.1" fill="#2aa7d4" stroke="#2185a9" stroke-width="0.5"/>
<rect x="395.3" y="225.8" width="3.1" height="3.1" fill="#2aa7d4" stroke="#2185a9" stroke-width="0.5"/>
<rect x="398.1" y="231.6" width="3.1" height="3.1" fill="#2aa6d4" stroke="#2184a9" stroke-width="0.5"/>
<rect x="399.6" y="223.8" width="3.1" height="3.1" fill="#2aa6d3" stroke="#2184a8" stroke-width="0.5"/>
<rect x="400.3" y="217.5" width="3.1" height="3.1" fill="#2aa6d3" stroke="#2184a8" stroke-width="0.5"/>
<rect x="401.1" y="224.6" width="3.1" height="3.1" fill="#2ba5d3" stroke="#2284a8" stroke-width="0.5"/>
<rect x="405.8" y="217.5" width="3.1" height="3.1" fill="#2ba4d2" stroke="#2283a8" stroke-width="0.5"/>
<rect x="408.2" y="226.9" width="3.1" height="3.1" fill="#2ea0cd" stroke="#2480a4" stroke-width="0.5"/>
<rect x="408.9" y="207.4" width="3.1" height="3.1" fill="#2e9fcc" stroke="#247fa3" stroke-width="0.5"/>
<rect x="410.6" y="231.6" width="3.1" height="3.1" fill="#309cc8" stroke="#267ca0" stroke-width="0.5"/>
<rect x="411.3" y="220.8" width="3.1" height="3.1" fill="#319ac6" stroke="#277b9e" stroke-width="0.5"/>
<rect x="412.9" y="232.4" width="3.1" height="3.1" fill="#3397c2" stroke="#28789b" stroke-width="0.5"/>
<rect x="413.6" y="222.2" width="3.1" height="3.1" fill="#3496c0" stroke="#297899" stroke-width="0.5"/>
<rect x="416.1" y="225.4" width="3.1" height="3.1" fill="#3791bb" stroke="#2c7495" stroke-width="0.5"/>
<rect x="418.3" y="228.5" width="3.1" height="3.1" fill="#3a8cb5" stroke="#2e7090" stroke-width="0.5"/>
<rect x="419.1" y="201.9" width="3.1" height="3.1" fill="#3b8bb3" stroke="#2f6f8f" stroke-width="0.5"/>
<rect x="419.9" y="220.8" width="3.1" height="3.1" fill="#3c89b1" stroke="#306d8d" stroke-width="0.5"/>
<rect x="423.8" y="216.0" width="3.1" height="3.1" fill="#4084aa" stroke="#336988" stroke-width="0.5"/>
<rect x="426.2" y="222.2" width="3.1" height="3.1" fill="#4381a6" stroke="#356784" stroke-width="0.5"/>
<rect x="426.9" y="228.5" width="3.1" height="3.1" fill="#4480a5" stroke="#366684" stroke-width="0.5"/>
<rect x="428.6" y="216.0" width="3.1" height="3.1" fill="#467ea2" stroke="#386481" stroke-width="0.5"/>
<rect x="430.1" y="227.8" width="3.1" height="3.1" fill="#487b9f" stroke="#39627f" stroke-width="0.5"/>
<rect x="431.6" y="205.8" width="3.1" height="3.1" fill="#4a799c" stroke="#3b607c" stroke-width="0.5"/>
<rect x="434.1" y="234.8" width="3.1" height="3.1" fill="#4d7798" stroke="#3d5f79" stroke-width="0.5"/>
<rect x="437.1" y="225.4" width="3.1" height="3.1" fill="#507495" stroke="#405c77" stroke-width="0.5"/>
<rect x="437.9" y="228.5" width="3.1" height="3.1" fill="#517394" stroke="#405c76" stroke-width="0.5"/>
<rect x="439.6" y="233.2" width="3.1" height="3.1" fill="#527293" stroke="#415b75" stroke-width="0.5"/>
<rect x="443.4" y="227.8" width="3.1" height="3.1" fill="#566e8f" stroke="#445872" stroke-width="0.5"/>
<rect x="443.9" y="238.8" width="3.1" height="3.1" fill="#576e8e" stroke="#455871" stroke-width="0.5"/>
<rect x="444.2" y="226.9" width="3.1" height="3.1" fill="#576d8e" stroke="#455771" stroke-width="0.5"/>
<rect x="444.2" y="239.5" width="3.1" height="3.1" fill="#576d8e" stroke="#455771" stroke-width="0.5"/>
<rect x="445.1" y="249.6" width="3.1" height="3.1" fill="#586d8d" stroke="#465770" stroke-width="0.5"/>
<rect x="445.1" y="249.6" width="3.1" height="3.1" fill="#586d8d" stroke="#465770" stroke-width="0.5"/>
<rect x="447.3" y="241.8" width="3.1" height="3.1" fill="#5b6b8a" stroke="#48556e" stroke-width="0.5"/>
<rect x="448.1" y="202.8" width="3.1" height="3.1" fill="#5c6a8a" stroke="#49546e" stroke-width="0.5"/>
<rect x="448.9" y="241.8" width="3.1" height="3.1" fill="#5d6989" stroke="#4a546d" stroke-width="0.5"/>
<rect x="449.4" y="202.8" width="3.1" height="3.1" fill="#5d6988" stroke="#4a546c" stroke-width="0.5"/>
<rect x="450.1" y="208.5" width="3.1" height="3.1" fill="#5e6888" stroke="#4b536c" stroke-width="0.5"/>
<rect x="452.6" y="214.8" width="3.1" height="3.1" fill="#616685" stroke="#4d516a" stroke-width="0.5"/>
<rect x="454.1" y="240.6" width="3.1" height="3.1" fill="#636583" stroke="#4f5068" stroke-width="0.5"/>
<rect x="455.9" y="228.8" width="3.1" height="3.1" fill="#656381" stroke="#504f67" stroke-width="0.5"/>
<rect x="457.6" y="210.5" width="3.1" height="3.1" fill="#676180" stroke="#524d66" stroke-width="0.5"/>
<rect x="465.6" y="234.0" width="3.1" height="3.1" fill="#745573" stroke="#5c445c" stroke-width="0.5"/>
<rect x="467.8" y="228.5" width="3.1" height="3.1" fill="#77516f" stroke="#5f4058" stroke-width="0.5"/>
<rect x="468.1" y="224.1" width="3.1" height="3.1" fill="#78506e" stroke="#604058" stroke-width="0.5"/>
<rect x="475.6" y="245.0" width="3.1" height="3.1" fill="#844361" stroke="#69354d" stroke-width="0.5"/>
<rect x="476.3" y="236.0" width="3.1" height="3.1" fill="#86425f" stroke="#6b344c" stroke-width="0.5"/>
<rect x="480.2" y="214.8" width="3.1" height="3.1" fill="#8d3c59" stroke="#703047" stroke-width="0.5"/>
<rect x="484.9" y="221.0" width="3.1" height="3.1" fill="#963451" stroke="#782940" stroke-width="0.5"/>
<rect x="486.9" y="216.3" width="3.1" height="3.1" fill="#9a314d" stroke="#7b273d" stroke-width="0.5"/>
<rect x="501.1" y="219.4" width="3.1" height="3.1" fill="#ab263e" stroke="#881e31" stroke-width="0.5"/>
<line x1="380.50" y1="213.50" x2="514.10" y2="213.50" stroke="#0a0a0a" stroke-width="3"/>
<line x1="383.00" y1="212.90" x2="511.30" y2="234.80" stroke="#e5202a" stroke-width="3.4"/>
<rect x="379.80" y="161.50" width="135" height="103.5" fill="none" stroke="#3a3a3a" stroke-width="1.5"/>
<line x1="378.00" y1="252.95" x2="379.80" y2="252.95" stroke="#222" stroke-width="1.2"/>
<line x1="378.00" y1="233.07" x2="379.80" y2="233.07" stroke="#222" stroke-width="1.2"/>
<line x1="378.00" y1="213.20" x2="379.80" y2="213.20" stroke="#222" stroke-width="1.2"/>
<line x1="378.00" y1="193.32" x2="379.80" y2="193.32" stroke="#222" stroke-width="1.2"/>
<line x1="378.00" y1="173.45" x2="379.80" y2="173.45" stroke="#222" stroke-width="1.2"/>
<line x1="396.70" y1="265.00" x2="396.70" y2="266.80" stroke="#222" stroke-width="1.2"/>
<line x1="415.65" y1="265.00" x2="415.65" y2="266.80" stroke="#222" stroke-width="1.2"/>
<line x1="434.60" y1="265.00" x2="434.60" y2="266.80" stroke="#222" stroke-width="1.2"/>
<line x1="453.55" y1="265.00" x2="453.55" y2="266.80" stroke="#222" stroke-width="1.2"/>
<line x1="472.50" y1="265.00" x2="472.50" y2="266.80" stroke="#222" stroke-width="1.2"/>
<line x1="491.45" y1="265.00" x2="491.45" y2="266.80" stroke="#222" stroke-width="1.2"/>
<line x1="510.40" y1="265.00" x2="510.40" y2="266.80" stroke="#222" stroke-width="1.2"/>
<path d="M364.40,173.45 L373.20,173.45 M364.60,173.25 L366.20,175.85" stroke="#231f20" stroke-width="1.45" fill="none"/>
<text x="373.20" y="213.20" font-size="12.3" fill="#231f20" stroke="#231f20" stroke-width="0.18" text-anchor="middle" transform="rotate(-90 373.20 213.20)">0</text>
<path d="M364.40,252.95 L373.20,252.95 M364.60,252.75 L366.20,255.35" stroke="#231f20" stroke-width="1.45" fill="none"/>
<rect x="368.70" y="257.35" width="1.5" height="3.2" fill="#231f20"/>
<text x="396.70" y="279.70" font-size="12.5" fill="#231f20" stroke="#231f20" stroke-width="0.18" text-anchor="middle">7</text>
<text x="415.65" y="279.70" font-size="12.5" fill="#231f20" stroke="#231f20" stroke-width="0.18" text-anchor="middle">8</text>
<text x="434.60" y="279.70" font-size="12.5" fill="#231f20" stroke="#231f20" stroke-width="0.18" text-anchor="middle">9</text>
<text x="453.55" y="279.70" font-size="12.5" fill="#231f20" stroke="#231f20" stroke-width="0.18" text-anchor="middle">10</text>
<text x="472.50" y="279.70" font-size="12.5" fill="#231f20" stroke="#231f20" stroke-width="0.18" text-anchor="middle">11</text>
<text x="491.45" y="279.70" font-size="12.5" fill="#231f20" stroke="#231f20" stroke-width="0.18" text-anchor="middle">12</text>
<text x="510.40" y="279.70" font-size="12.5" fill="#231f20" stroke="#231f20" stroke-width="0.18" text-anchor="middle">13</text>
<text x="358.10" y="232.60" font-size="12.7" fill="#231f20" stroke="#231f20" stroke-width="0.18" textLength="38.50" lengthAdjust="spacingAndGlyphs" transform="rotate(-90 358.10 232.60)">155–EV</text>
<text x="217.40" y="301.00" font-size="12.5" fill="#231f20" stroke="#231f20" stroke-width="0.18" text-anchor="middle" textLength="71.10" lengthAdjust="spacingAndGlyphs">(EV+CLUS)/2</text>
<text x="451.60" y="301.00" font-size="12.5" fill="#231f20" stroke="#231f20" stroke-width="0.18" text-anchor="middle" textLength="62.50" lengthAdjust="spacingAndGlyphs">(EV+155)/2</text>
<text x="1.00" y="333.40" font-size="18" fill="#231f20" font-weight="bold" stroke="#231f20" stroke-width="0.35" textLength="10.00" lengthAdjust="spacingAndGlyphs" style="stroke-width:0.55">B</text>
<text x="25.70" y="330.70" font-size="12" fill="#231f20" font-weight="bold" stroke="#231f20" stroke-width="0.35" textLength="331.30" lengthAdjust="spacingAndGlyphs">Identification of candidate functional miR-125a targets</text>
<defs>
<radialGradient id="gTop" gradientUnits="userSpaceOnUse" cx="112" cy="365" r="80" fx="113" fy="366">
  <stop offset="0" stop-color="#ffffff"/>
  <stop offset="0.13" stop-color="#f3f3f4"/>
  <stop offset="0.33" stop-color="#e2e1e3"/>
  <stop offset="0.5" stop-color="#edc6cb"/>
  <stop offset="0.68" stop-color="#f4a9b2"/>
  <stop offset="1" stop-color="#f47d8b"/>
</radialGradient>
<radialGradient id="gTopRim" gradientUnits="userSpaceOnUse" cx="127.35" cy="391.95" r="47.05">
  <stop offset="0.9" stop-color="#b09098" stop-opacity="0"/>
  <stop offset="1" stop-color="#b09098" stop-opacity="0.18"/>
</radialGradient>
<radialGradient id="gBot" gradientUnits="userSpaceOnUse" cx="111" cy="440" r="80" fx="111" fy="441">
  <stop offset="0" stop-color="#ffffff"/>
  <stop offset="0.13" stop-color="#f0f0f2"/>
  <stop offset="0.35" stop-color="#dfdde3"/>
  <stop offset="0.6" stop-color="#d6cade"/>
  <stop offset="0.8" stop-color="#cdb7d9"/>
  <stop offset="1" stop-color="#c4a8d2"/>
</radialGradient>
<radialGradient id="gBotRim" gradientUnits="userSpaceOnUse" cx="127.2" cy="460.2" r="46.3">
  <stop offset="0.9" stop-color="#9a88a8" stop-opacity="0"/>
  <stop offset="1" stop-color="#9a88a8" stop-opacity="0.18"/>
</radialGradient>
<clipPath id="cTop"><circle cx="127.35" cy="391.95" r="47.05"/></clipPath>
<linearGradient id="gLens" x1="0" y1="0" x2="0" y2="0.55">
  <stop offset="0" stop-color="#d2aeb8"/>
  <stop offset="1" stop-color="#cda1ae"/>
</linearGradient>
</defs>
<circle cx="127.2" cy="460.2" r="46.3" fill="url(#gBot)"/><circle cx="127.2" cy="460.2" r="46.3" fill="url(#gBotRim)"/>
<circle cx="127.35" cy="391.95" r="47.05" fill="url(#gTop)"/><circle cx="127.35" cy="391.95" r="47.05" fill="url(#gTopRim)"/>
<g clip-path="url(#cTop)"><circle cx="127.2" cy="460.2" r="46.3" fill="url(#gLens)"/></g>
<text x="126.60" y="394.40" font-size="12.3" fill="#231f20" stroke="#231f20" stroke-width="0.18" text-anchor="middle" textLength="12.50" lengthAdjust="spacingAndGlyphs">35</text>
<text x="126.30" y="430.40" font-size="12.5" fill="#231f20" font-weight="bold" stroke="#231f20" stroke-width="0.35" text-anchor="middle" textLength="13.70" lengthAdjust="spacingAndGlyphs">40</text>
<text x="126.60" y="468.50" font-size="12.3" fill="#231f20" stroke="#231f20" stroke-width="0.18" text-anchor="middle" textLength="12.50" lengthAdjust="spacingAndGlyphs">28</text>
<line x1="29.2" y1="372.3" x2="29.2" y2="390.5" stroke="#231f20" stroke-width="1.5"/>
<path d="M26.2,387.5 L29.2,393.5 L32.2,387.5 L29.2,389.3 Z" fill="#231f20"/>
<line x1="28.9" y1="444.6" x2="28.9" y2="463.4" stroke="#231f20" stroke-width="1.5"/>
<path d="M25.9,460.4 L28.9,466.4 L31.9,460.4 L28.9,462.2 Z" fill="#231f20"/>
<text x="39.70" y="378.50" font-size="12.5" fill="#231f20" stroke="#231f20" stroke-width="0.18" textLength="9.20" lengthAdjust="spacingAndGlyphs">in</text>
<text x="39.20" y="394.20" font-size="12" fill="#c81e32" font-weight="bold" stroke="#c81e32" stroke-width="0.35" textLength="30.00" lengthAdjust="spacingAndGlyphs">CLUS</text>
<text x="39.20" y="410.80" font-size="12.5" fill="#231f20" stroke="#231f20" stroke-width="0.18" textLength="23.80" lengthAdjust="spacingAndGlyphs">cells</text>
<text x="39.70" y="451.50" font-size="12.5" fill="#231f20" stroke="#231f20" stroke-width="0.18" textLength="9.20" lengthAdjust="spacingAndGlyphs">in</text>
<text x="39.70" y="467.70" font-size="12" fill="#9a78b4" font-weight="bold" stroke="#9a78b4" stroke-width="0.35" textLength="28.00" lengthAdjust="spacingAndGlyphs">125a</text>
<text x="39.20" y="484.60" font-size="12.5" fill="#231f20" stroke="#231f20" stroke-width="0.18" textLength="23.80" lengthAdjust="spacingAndGlyphs">cells</text>
<line x1="172.5" y1="425.9" x2="190" y2="425.9" stroke="#231f20" stroke-width="1.3"/>
<path d="M187.8,423 L194.1,425.9 L187.8,428.8 L189.3,425.9 Z" fill="#231f20"/>
<defs><linearGradient id="p0" gradientUnits="userSpaceOnUse" x1="281.30" y1="426.40" x2="306.56" y2="351.76"><stop offset="0.08" stop-color="#e8343f" stop-opacity="0.05"/><stop offset="0.5" stop-color="#e8343f" stop-opacity="0.5"/><stop offset="1" stop-color="#e8343f"/></linearGradient><linearGradient id="p1" gradientUnits="userSpaceOnUse" x1="281.30" y1="426.40" x2="348.13" y2="384.64"><stop offset="0.08" stop-color="#f39a40" stop-opacity="0.05"/><stop offset="0.5" stop-color="#f39a40" stop-opacity="0.5"/><stop offset="1" stop-color="#f39a40"/></linearGradient><linearGradient id="p2" gradientUnits="userSpaceOnUse" x1="281.30" y1="426.40" x2="358.98" y2="439.61"><stop offset="0.08" stop-color="#fff21e" stop-opacity="0.05"/><stop offset="0.5" stop-color="#fff21e" stop-opacity="0.5"/><stop offset="1" stop-color="#fff21e"/></linearGradient><linearGradient id="p3" gradientUnits="userSpaceOnUse" x1="281.30" y1="426.40" x2="318.84" y2="495.68"><stop offset="0.08" stop-color="#9dd058" stop-opacity="0.05"/><stop offset="0.5" stop-color="#9dd058" stop-opacity="0.5"/><stop offset="1" stop-color="#9dd058"/></linearGradient><linearGradient id="p4" gradientUnits="userSpaceOnUse" x1="281.30" y1="426.40" x2="240.66" y2="493.91"><stop offset="0.08" stop-color="#a4def8" stop-opacity="0.05"/><stop offset="0.5" stop-color="#a4def8" stop-opacity="0.5"/><stop offset="1" stop-color="#a4def8"/></linearGradient><linearGradient id="p5" gradientUnits="userSpaceOnUse" x1="281.30" y1="426.40" x2="210.00" y2="459.95"><stop offset="0.08" stop-color="#3a86c8" stop-opacity="0.05"/><stop offset="0.5" stop-color="#3a86c8" stop-opacity="0.5"/><stop offset="1" stop-color="#3a86c8"/></linearGradient><linearGradient id="p6" gradientUnits="userSpaceOnUse" x1="281.30" y1="426.40" x2="203.36" y2="414.82"><stop offset="0.08" stop-color="#ad88c0" stop-opacity="0.05"/><stop offset="0.5" stop-color="#ad88c0" stop-opacity="0.5"/><stop offset="1" stop-color="#ad88c0"/></linearGradient><linearGradient id="p7" gradientUnits="userSpaceOnUse" x1="281.30" y1="426.40" x2="246.14" y2="355.88"><stop offset="0.08" stop-color="#f8b0cf" stop-opacity="0.05"/><stop offset="0.5" stop-color="#f8b0cf" stop-opacity="0.5"/><stop offset="1" stop-color="#f8b0cf"/></linearGradient></defs>
<circle cx="281.30" cy="426.40" r="78.80" fill="#fff"/>
<path d="M281.30,426.40 L281.30,347.60 A78.8,78.8 0 0 1 329.16,363.80 Z" fill="url(#p0)"/>
<path d="M281.30,426.40 L329.16,363.80 A78.8,78.8 0 0 1 358.55,410.82 Z" fill="url(#p1)"/>
<path d="M281.30,426.40 L358.55,410.82 A78.8,78.8 0 0 1 349.06,466.63 Z" fill="url(#p2)"/>
<path d="M281.30,426.40 L349.06,466.63 A78.8,78.8 0 0 1 278.00,505.13 Z" fill="url(#p3)"/>
<path d="M281.30,426.40 L278.00,505.13 A78.8,78.8 0 0 1 213.26,466.16 Z" fill="url(#p4)"/>
<path d="M281.30,426.40 L213.26,466.16 A78.8,78.8 0 0 1 207.30,453.48 Z" fill="url(#p5)"/>
<path d="M281.30,426.40 L207.30,453.48 A78.8,78.8 0 0 1 218.37,378.98 Z" fill="url(#p6)"/>
<path d="M281.30,426.40 L218.37,378.98 A78.8,78.8 0 0 1 281.30,347.60 Z" fill="url(#p7)"/>
<defs><radialGradient id="glow" gradientUnits="userSpaceOnUse" cx="281.30" cy="426.40" r="78.80"><stop offset="0" stop-color="#fff" stop-opacity="1"/><stop offset="0.1" stop-color="#fff" stop-opacity="0.92"/><stop offset="0.25" stop-color="#fff" stop-opacity="0.5"/><stop offset="0.46" stop-color="#fff" stop-opacity="0"/></radialGradient></defs>
<circle cx="281.30" cy="426.40" r="78.80" fill="url(#glow)"/>
<rect x="371" y="349.7" width="17.4" height="9" fill="#ec4856" stroke="#2e2119" stroke-width="1.6"/>
<text x="393.30" y="358.20" font-size="12" fill="#231f20" stroke="#231f20" stroke-width="0.18" textLength="84.40" lengthAdjust="spacingAndGlyphs">1. Apoptosis/Cell death</text>
<rect x="371" y="370.7" width="17.4" height="9" fill="#f6a443" stroke="#2e2119" stroke-width="1.6"/>
<text x="393.30" y="379.20" font-size="12" fill="#231f20" stroke="#231f20" stroke-width="0.18" textLength="53.70" lengthAdjust="spacingAndGlyphs">2. Proliferation</text>
<rect x="371" y="391.3" width="17.4" height="9" fill="#f7f03c" stroke="#2e2119" stroke-width="1.6"/>
<text x="393.30" y="399.80" font-size="12" fill="#231f20" stroke="#231f20" stroke-width="0.18" textLength="61.70" lengthAdjust="spacingAndGlyphs">3. Differentiation</text>
<rect x="371" y="412.5" width="17.4" height="9" fill="#9fd06a" stroke="#2e2119" stroke-width="1.6"/>
<text x="393.30" y="421.00" font-size="12" fill="#231f20" stroke="#231f20" stroke-width="0.18" textLength="85.60" lengthAdjust="spacingAndGlyphs">4. Chromatin/DNA/RNA</text>
<rect x="371" y="433.5" width="17.4" height="9" fill="#a8e2f4" stroke="#2e2119" stroke-width="1.6"/>
<text x="393.30" y="442.00" font-size="12" fill="#231f20" stroke="#231f20" stroke-width="0.18" textLength="70.10" lengthAdjust="spacingAndGlyphs">6. Protein/Enzymes</text>
<rect x="371" y="454.4" width="17.4" height="9" fill="#3d7fc1" stroke="#2e2119" stroke-width="1.6"/>
<text x="393.30" y="462.90" font-size="12" fill="#231f20" stroke="#231f20" stroke-width="0.18" textLength="120.70" lengthAdjust="spacingAndGlyphs">5. Signal transduction/ Pathways</text>
<rect x="371" y="475.2" width="17.4" height="9" fill="#a98ac0" stroke="#2e2119" stroke-width="1.6"/>
<text x="393.30" y="483.70" font-size="12" fill="#231f20" stroke="#231f20" stroke-width="0.18" textLength="42.60" lengthAdjust="spacingAndGlyphs">7. Transport</text>
<rect x="371" y="496.1" width="17.4" height="9" fill="#f7a9da" stroke="#2e2119" stroke-width="1.6"/>
<text x="393.30" y="504.60" font-size="12" fill="#231f20" stroke="#231f20" stroke-width="0.18" textLength="28.90" lengthAdjust="spacingAndGlyphs">8. Other</text>
</svg>
</body></html>
